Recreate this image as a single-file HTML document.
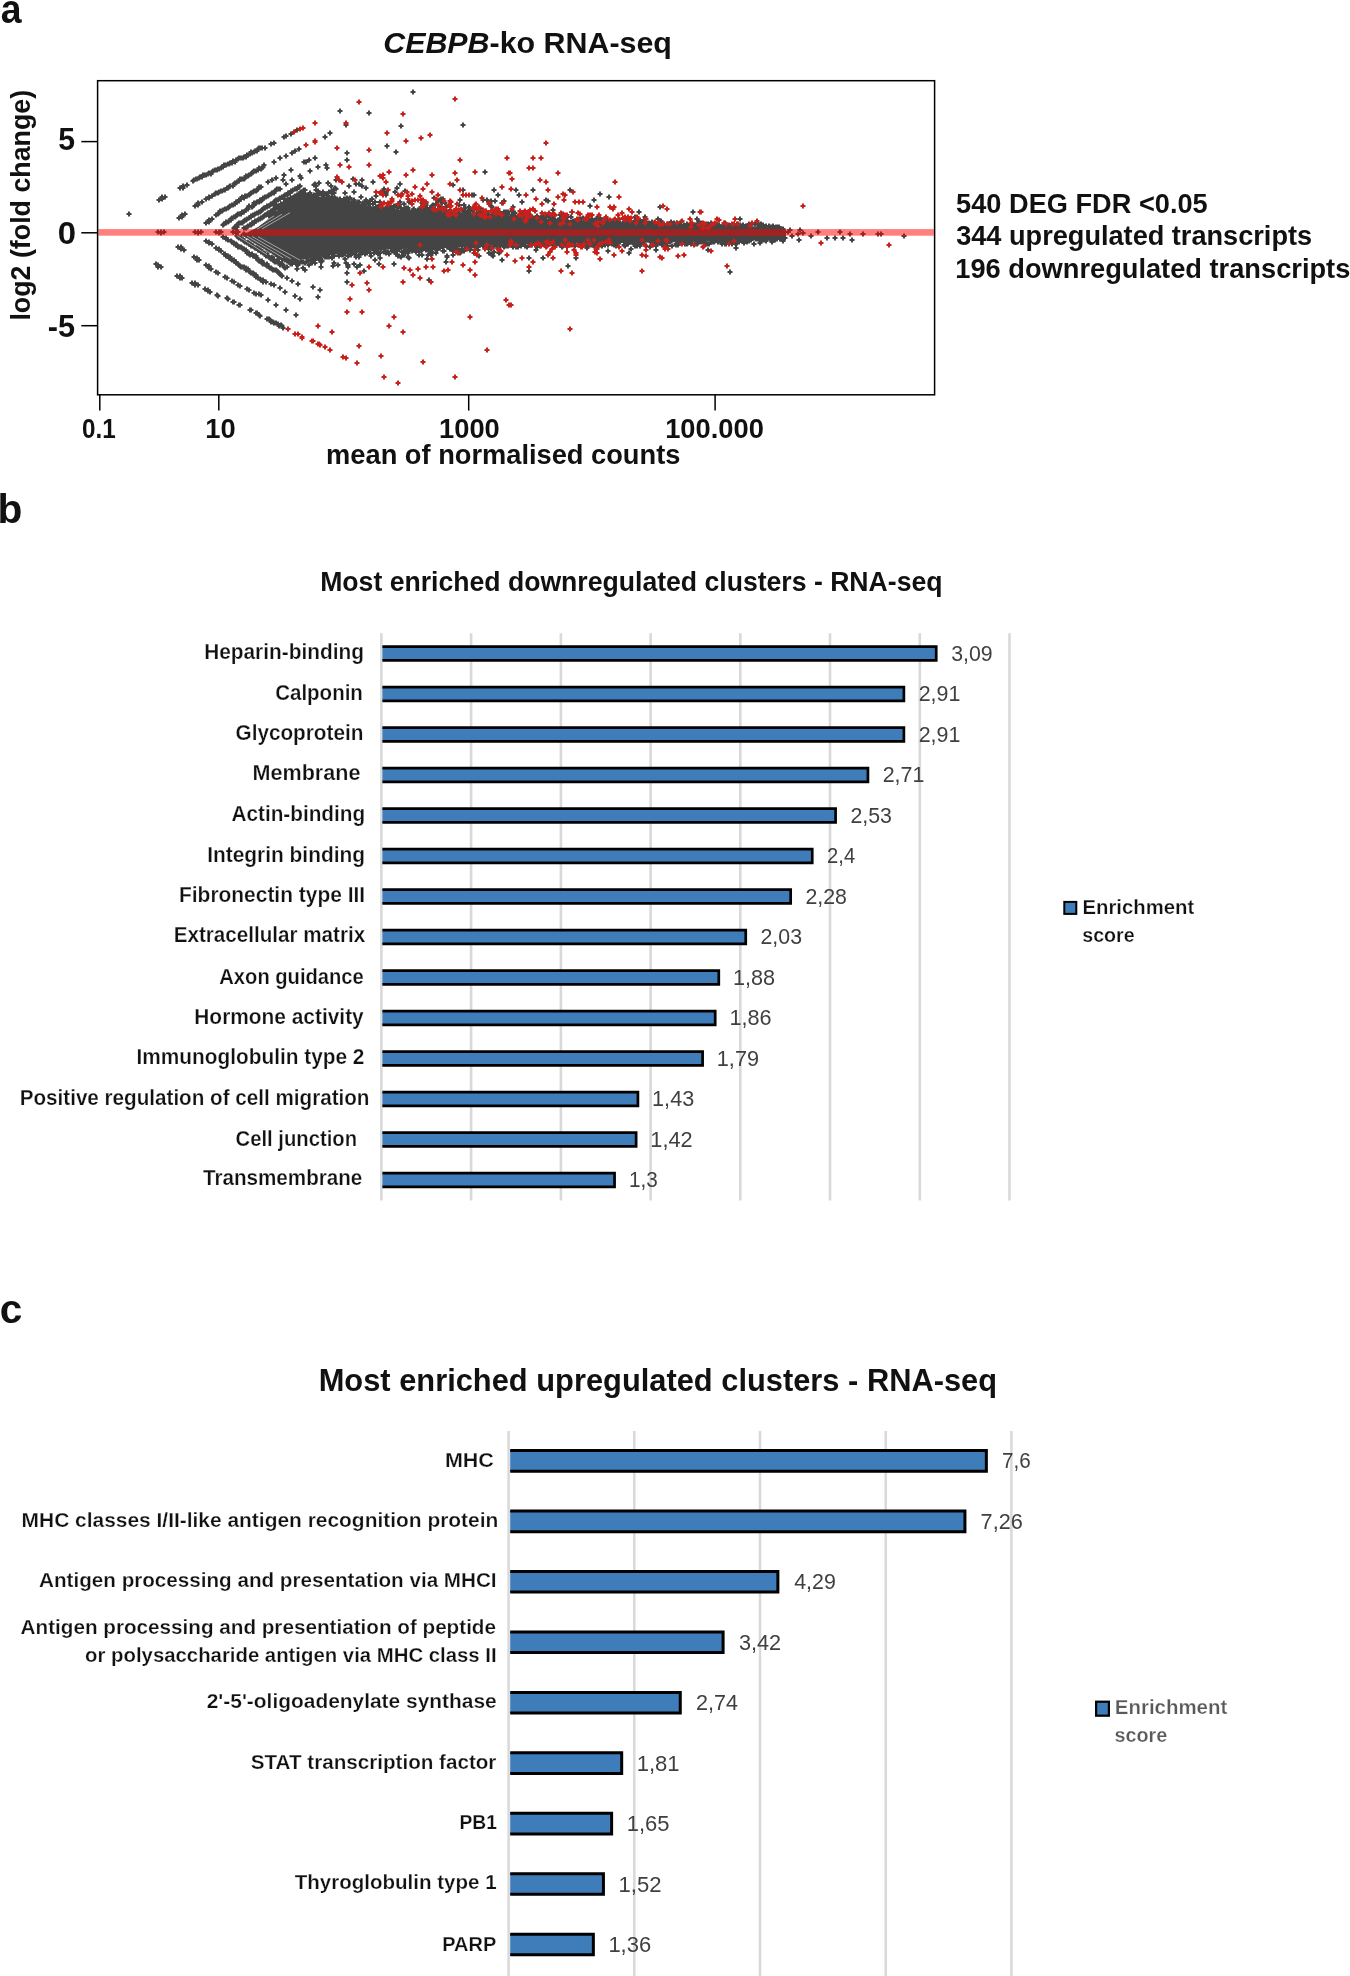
<!DOCTYPE html>
<html><head><meta charset="utf-8"><style>
html,body{margin:0;padding:0;background:#fff;}
svg{display:block;font-family:"Liberation Sans",sans-serif;will-change:transform;}
</style></head><body>
<svg width="1350" height="1976" viewBox="0 0 1350 1976">
<rect width="1350" height="1976" fill="#fff"/>
<clipPath id="pc"><rect x="98.3" y="81.4" width="835.5" height="312.7"/></clipPath>
<g clip-path="url(#pc)">
<polygon points="249.0,231.5 258.0,227.0 267.0,220.0 276.0,212.0 285.0,205.0 295.0,199.0 305.0,196.5 315.0,196.0 330.0,197.5 350.0,201.0 375.0,207.0 400.0,209.5 430.0,211.0 460.0,212.5 500.0,214.5 540.0,218.0 580.0,220.5 620.0,222.5 660.0,224.0 700.0,225.3 740.0,226.0 760.0,226.5 775.0,227.5 786.0,229.5 786.0,237.0 775.0,239.5 760.0,240.3 740.0,241.0 700.0,241.8 660.0,242.5 620.0,243.0 580.0,243.5 540.0,244.0 500.0,245.0 460.0,247.5 430.0,248.5 400.0,249.0 375.0,250.0 350.0,252.5 330.0,255.5 315.0,258.0 305.0,259.5 295.0,259.5 285.0,257.5 275.0,253.0 265.0,247.0 255.0,240.0 246.0,233.5" fill="#444"/>
<path d="M126.5 214h5M129 211.5v5M155.5 232h5M158 229.5v5M158.5 232h5M161 229.5v5M161.5 232h5M164 229.5v5M158.5 233h5M161 230.5v5M192.5 232h5M195 229.5v5M195.5 232h5M198 229.5v5M198.5 232h5M201 229.5v5M195.5 233h5M198 230.5v5M213.5 232h5M216 229.5v5M216.5 232h5M219 229.5v5M218.5 232h5M221 229.5v5M216.5 233h5M219 230.5v5M230.5 232h5M233 229.5v5M233.5 232h5M236 229.5v5M235.5 232h5M238 229.5v5M233.5 233h5M236 230.5v5M156.5 200h5M159 197.5v5M159.5 198h5M162 195.5v5M162.5 197h5M165 194.5v5M159.5 197h5M162 194.5v5M159.5 199h5M162 196.5v5M177.5 188h5M180 185.5v5M180.5 187h5M183 184.5v5M184.5 185h5M187 182.5v5M180.5 186h5M183 183.5v5M180.5 188h5M183 185.5v5M190.5 181h5M193 178.5v5M191.5 180h5M194 177.5v5M193.5 179h5M196 176.5v5M194.5 179h5M197 176.5v5M196.5 178h5M199 175.5v5M197.5 177h5M200 174.5v5M199.5 177h5M202 174.5v5M200.5 175h5M203 172.5v5M201.5 175h5M204 172.5v5M203.5 175h5M206 172.5v5M205.5 174h5M208 171.5v5M206.5 173h5M209 170.5v5M208.5 174h5M211 171.5v5M209.5 172h5M212 169.5v5M210.5 171h5M213 168.5v5M212.5 170h5M215 167.5v5M214.5 170h5M217 167.5v5M215.5 169h5M218 166.5v5M216.5 169h5M219 166.5v5M218.5 168h5M221 165.5v5M219.5 167h5M222 164.5v5M220.5 167h5M223 164.5v5M221.5 165h5M224 162.5v5M223.5 165h5M226 162.5v5M225.5 164h5M228 161.5v5M226.5 164h5M229 161.5v5M227.5 163h5M230 160.5v5M229.5 163h5M232 160.5v5M230.5 161h5M233 158.5v5M232.5 162h5M235 159.5v5M233.5 160h5M236 157.5v5M235.5 159h5M238 156.5v5M236.5 158h5M239 155.5v5M238.5 158h5M241 155.5v5M240.5 158h5M243 155.5v5M241.5 157h5M244 154.5v5M243.5 157h5M246 154.5v5M244.5 155h5M247 152.5v5M245.5 155h5M248 152.5v5M247.5 154h5M250 151.5v5M248.5 152h5M251 149.5v5M249.5 153h5M252 150.5v5M251.5 152h5M254 149.5v5M252.5 151h5M255 148.5v5M254.5 151h5M257 148.5v5M255.5 149h5M258 146.5v5M256.5 148h5M259 145.5v5M258.5 148h5M261 145.5v5M259.5 148h5M262 145.5v5M262.5 148h5M265 145.5v5M268.5 144h5M271 141.5v5M271.5 143h5M274 140.5v5M281.5 137h5M284 134.5v5M283.5 136h5M286 133.5v5M288.5 134h5M291 131.5v5M294.5 130h5M297 127.5v5M176.5 218h5M179 215.5v5M179.5 216h5M182 213.5v5M182.5 214h5M185 211.5v5M179.5 215h5M182 212.5v5M179.5 217h5M182 214.5v5M192.5 206h5M195 203.5v5M195.5 204h5M198 201.5v5M199.5 202h5M202 199.5v5M195.5 203h5M198 200.5v5M195.5 205h5M198 202.5v5M203.5 199h5M206 196.5v5M206.5 198h5M209 195.5v5M209.5 196h5M212 193.5v5M206.5 197h5M209 194.5v5M212.5 194h5M215 191.5v5M213.5 193h5M216 190.5v5M215.5 193h5M218 190.5v5M216.5 192h5M219 189.5v5M218.5 191h5M221 188.5v5M219.5 191h5M222 188.5v5M221.5 190h5M224 187.5v5M222.5 190h5M225 187.5v5M224.5 188h5M227 185.5v5M225.5 188h5M228 185.5v5M226.5 187h5M229 184.5v5M227.5 186h5M230 183.5v5M230.5 186h5M233 183.5v5M231.5 184h5M234 181.5v5M232.5 183h5M235 180.5v5M233.5 183h5M236 180.5v5M234.5 182h5M237 179.5v5M236.5 181h5M239 178.5v5M237.5 179h5M240 176.5v5M239.5 179h5M242 176.5v5M241.5 179h5M244 176.5v5M242.5 178h5M245 175.5v5M243.5 176h5M246 173.5v5M245.5 176h5M248 173.5v5M246.5 175h5M249 172.5v5M248.5 174h5M251 171.5v5M249.5 173h5M252 170.5v5M250.5 172h5M253 169.5v5M251.5 171h5M254 168.5v5M253.5 171h5M256 168.5v5M255.5 170h5M258 167.5v5M256.5 168h5M259 165.5v5M258.5 169h5M261 166.5v5M259.5 168h5M262 165.5v5M260.5 167h5M263 164.5v5M261.5 165h5M264 162.5v5M271.5 162h5M274 159.5v5M277.5 158h5M280 155.5v5M283.5 156h5M286 153.5v5M289.5 153h5M292 150.5v5M292.5 151h5M295 148.5v5M296.5 149h5M299 146.5v5M203.5 223h5M206 220.5v5M206.5 221h5M209 218.5v5M209.5 219h5M212 216.5v5M206.5 220h5M209 217.5v5M206.5 222h5M209 219.5v5M213.5 215h5M216 212.5v5M215.5 214h5M218 211.5v5M216.5 213h5M219 210.5v5M217.5 211h5M220 208.5v5M219.5 211h5M222 208.5v5M220.5 210h5M223 207.5v5M222.5 209h5M225 206.5v5M223.5 209h5M226 206.5v5M225.5 208h5M228 205.5v5M226.5 207h5M229 204.5v5M227.5 206h5M230 203.5v5M229.5 205h5M232 202.5v5M230.5 205h5M233 202.5v5M232.5 204h5M235 201.5v5M233.5 202h5M236 199.5v5M234.5 202h5M237 199.5v5M236.5 201h5M239 198.5v5M236.5 200h5M239 197.5v5M238.5 199h5M241 196.5v5M239.5 197h5M242 194.5v5M241.5 198h5M244 195.5v5M242.5 196h5M245 193.5v5M244.5 196h5M247 193.5v5M246.5 195h5M249 192.5v5M247.5 194h5M250 191.5v5M248.5 193h5M251 190.5v5M250.5 192h5M253 189.5v5M251.5 191h5M254 188.5v5M253.5 191h5M256 188.5v5M254.5 190h5M257 187.5v5M255.5 189h5M258 186.5v5M256.5 187h5M259 184.5v5M258.5 187h5M261 184.5v5M265.5 182h5M268 179.5v5M269.5 180h5M272 177.5v5M273.5 178h5M276 175.5v5M281.5 175h5M284 172.5v5M288.5 170h5M291 167.5v5M301.5 162h5M304 159.5v5M312.5 158h5M315 155.5v5M306.5 160h5M309 157.5v5M220.5 225h5M223 222.5v5M221.5 224h5M224 221.5v5M223.5 223h5M226 220.5v5M223.5 222h5M226 219.5v5M225.5 222h5M228 219.5v5M226.5 221h5M229 218.5v5M228.5 220h5M231 217.5v5M228.5 219h5M231 216.5v5M229.5 218h5M232 215.5v5M231.5 217h5M234 214.5v5M232.5 217h5M235 214.5v5M233.5 216h5M236 213.5v5M234.5 215h5M237 212.5v5M235.5 214h5M238 211.5v5M237.5 214h5M240 211.5v5M238.5 214h5M241 211.5v5M239.5 212h5M242 209.5v5M240.5 212h5M243 209.5v5M241.5 212h5M244 209.5v5M243.5 210h5M246 207.5v5M244.5 209h5M247 206.5v5M245.5 209h5M248 206.5v5M246.5 207h5M249 204.5v5M246.5 206h5M249 203.5v5M249.5 207h5M252 204.5v5M250.5 206h5M253 203.5v5M251.5 205h5M254 202.5v5M251.5 203h5M254 200.5v5M253.5 203h5M256 200.5v5M254.5 202h5M257 199.5v5M256.5 202h5M259 199.5v5M257.5 200h5M260 197.5v5M258.5 201h5M261 198.5v5M259.5 200h5M262 197.5v5M260.5 198h5M263 195.5v5M261.5 198h5M264 195.5v5M262.5 197h5M265 194.5v5M263.5 197h5M266 194.5v5M265.5 196h5M268 193.5v5M266.5 195h5M269 192.5v5M268.5 194h5M271 191.5v5M269.5 193h5M272 190.5v5M270.5 193h5M273 190.5v5M271.5 193h5M274 190.5v5M272.5 191h5M275 188.5v5M273.5 190h5M276 187.5v5M274.5 189h5M277 186.5v5M276.5 189h5M279 186.5v5M277.5 189h5M280 186.5v5M283.5 184h5M286 181.5v5M289.5 180h5M292 177.5v5M297.5 176h5M300 173.5v5M307.5 171h5M310 168.5v5M315.5 167h5M318 164.5v5M231.5 228h5M234 225.5v5M232.5 227h5M235 224.5v5M234.5 227h5M237 224.5v5M234.5 225h5M237 222.5v5M235.5 224h5M238 221.5v5M236.5 223h5M239 220.5v5M238.5 223h5M241 220.5v5M239.5 223h5M242 220.5v5M240.5 222h5M243 219.5v5M241.5 221h5M244 218.5v5M242.5 220h5M245 217.5v5M243.5 220h5M246 217.5v5M244.5 219h5M247 216.5v5M246.5 218h5M249 215.5v5M248.5 217h5M251 214.5v5M248.5 216h5M251 213.5v5M250.5 215h5M253 212.5v5M251.5 215h5M254 212.5v5M252.5 214h5M255 211.5v5M254.5 213h5M257 210.5v5M255.5 213h5M258 210.5v5M256.5 212h5M259 209.5v5M257.5 212h5M260 209.5v5M258.5 211h5M261 208.5v5M259.5 210h5M262 207.5v5M260.5 209h5M263 206.5v5M261.5 208h5M264 205.5v5M262.5 208h5M265 205.5v5M264.5 207h5M267 204.5v5M264.5 206h5M267 203.5v5M266.5 206h5M269 203.5v5M267.5 205h5M270 202.5v5M268.5 204h5M271 201.5v5M269.5 204h5M272 201.5v5M271.5 204h5M274 201.5v5M271.5 202h5M274 199.5v5M272.5 201h5M275 198.5v5M273.5 200h5M276 197.5v5M275.5 200h5M278 197.5v5M276.5 199h5M279 196.5v5M277.5 199h5M280 196.5v5M277.5 198h5M280 195.5v5M279.5 197h5M282 194.5v5M280.5 197h5M283 194.5v5M281.5 196h5M284 193.5v5M282.5 195h5M285 192.5v5M284.5 195h5M287 192.5v5M285.5 193h5M288 190.5v5M286.5 193h5M289 190.5v5M287.5 193h5M290 190.5v5M288.5 191h5M291 188.5v5M289.5 191h5M292 188.5v5M290.5 190h5M293 187.5v5M292.5 189h5M295 186.5v5M293.5 189h5M296 186.5v5M294.5 189h5M297 186.5v5M295.5 187h5M298 184.5v5M296.5 187h5M299 184.5v5M297.5 186h5M300 183.5v5M241.5 228h5M244 225.5v5M242.5 228h5M245 225.5v5M243.5 228h5M246 225.5v5M244.5 227h5M247 224.5v5M245.5 226h5M248 223.5v5M247.5 225h5M250 222.5v5M248.5 225h5M251 222.5v5M249.5 224h5M252 221.5v5M249.5 223h5M252 220.5v5M251.5 223h5M254 220.5v5M252.5 221h5M255 218.5v5M253.5 221h5M256 218.5v5M255.5 220h5M258 217.5v5M256.5 219h5M259 216.5v5M257.5 219h5M260 216.5v5M258.5 218h5M261 215.5v5M259.5 218h5M262 215.5v5M260.5 217h5M263 214.5v5M261.5 216h5M264 213.5v5M262.5 215h5M265 212.5v5M263.5 215h5M266 212.5v5M264.5 214h5M267 211.5v5M265.5 213h5M268 210.5v5M266.5 213h5M269 210.5v5M268.5 212h5M271 209.5v5M268.5 211h5M271 208.5v5M270.5 210h5M273 207.5v5M271.5 209h5M274 206.5v5M272.5 209h5M275 206.5v5M273.5 208h5M276 205.5v5M274.5 207h5M277 204.5v5M276.5 207h5M279 204.5v5M277.5 206h5M280 203.5v5M278.5 206h5M281 203.5v5M278.5 204h5M281 201.5v5M280.5 204h5M283 201.5v5M281.5 203h5M284 200.5v5M282.5 203h5M285 200.5v5M283.5 201h5M286 198.5v5M285.5 201h5M288 198.5v5M285.5 200h5M288 197.5v5M287.5 200h5M290 197.5v5M288.5 199h5M291 196.5v5M290.5 198h5M293 195.5v5M291.5 197h5M294 194.5v5M292.5 196h5M295 193.5v5M293.5 196h5M296 193.5v5M294.5 195h5M297 192.5v5M296.5 194h5M299 191.5v5M297.5 193h5M300 190.5v5M298.5 192h5M301 189.5v5M300.5 191h5M303 188.5v5M301.5 190h5M304 187.5v5M302.5 190h5M305 187.5v5M153.5 264h5M156 261.5v5M158.5 267h5M161 264.5v5M155.5 265h5M158 262.5v5M155.5 267h5M158 264.5v5M174.5 276h5M177 273.5v5M179.5 278h5M182 275.5v5M177.5 276h5M180 273.5v5M177.5 278h5M180 275.5v5M189.5 283h5M192 280.5v5M195.5 285h5M198 282.5v5M192.5 283h5M195 280.5v5M192.5 285h5M195 282.5v5M202.5 289h5M205 286.5v5M207.5 292h5M210 289.5v5M205.5 290h5M208 287.5v5M205.5 291h5M208 288.5v5M214.5 295h5M217 292.5v5M215.5 296h5M218 293.5v5M224.5 298h5M227 295.5v5M225.5 299h5M228 296.5v5M230.5 302h5M233 299.5v5M231.5 302h5M234 299.5v5M236.5 305h5M239 302.5v5M237.5 305h5M240 302.5v5M247.5 310h5M250 307.5v5M248.5 310h5M251 307.5v5M253.5 313h5M256 310.5v5M254.5 313h5M257 310.5v5M256.5 315h5M259 312.5v5M257.5 316h5M260 313.5v5M264.5 319h5M267 316.5v5M266.5 319h5M269 316.5v5M267.5 320h5M270 317.5v5M268.5 322h5M271 319.5v5M270.5 322h5M273 319.5v5M271.5 323h5M274 320.5v5M273.5 323h5M276 320.5v5M275.5 324h5M278 321.5v5M276.5 326h5M279 323.5v5M278.5 325h5M281 322.5v5M279.5 326h5M282 323.5v5M280.5 328h5M283 325.5v5M175.5 247h5M178 244.5v5M178.5 248h5M181 245.5v5M181.5 250h5M184 247.5v5M178.5 247h5M181 244.5v5M178.5 249h5M181 246.5v5M191.5 257h5M194 254.5v5M194.5 259h5M197 256.5v5M196.5 260h5M199 257.5v5M194.5 258h5M197 255.5v5M194.5 260h5M197 257.5v5M203.5 265h5M206 262.5v5M206.5 267h5M209 264.5v5M208.5 269h5M211 266.5v5M206.5 266h5M209 263.5v5M206.5 268h5M209 265.5v5M213.5 272h5M216 269.5v5M215.5 273h5M218 270.5v5M222.5 277h5M225 274.5v5M224.5 278h5M227 275.5v5M229.5 281h5M232 278.5v5M231.5 282h5M234 279.5v5M235.5 285h5M238 282.5v5M237.5 286h5M240 283.5v5M244.5 289h5M247 286.5v5M246.5 290h5M249 287.5v5M251.5 293h5M254 290.5v5M253.5 294h5M256 291.5v5M256.5 294h5M259 291.5v5M258.5 295h5M261 292.5v5M265.5 300h5M268 297.5v5M273.5 305h5M276 302.5v5M283.5 310h5M286 307.5v5M293.5 315h5M296 312.5v5M203.5 241h5M206 238.5v5M206.5 242h5M209 239.5v5M209.5 244h5M212 241.5v5M206.5 243h5M209 240.5v5M213.5 248h5M216 245.5v5M216.5 249h5M219 246.5v5M218.5 251h5M221 248.5v5M216.5 250h5M219 247.5v5M221.5 254h5M224 251.5v5M222.5 254h5M225 251.5v5M223.5 256h5M226 253.5v5M225.5 256h5M228 253.5v5M226.5 258h5M229 255.5v5M227.5 257h5M230 254.5v5M228.5 259h5M231 256.5v5M229.5 260h5M232 257.5v5M231.5 260h5M234 257.5v5M231.5 261h5M234 258.5v5M233.5 262h5M236 259.5v5M233.5 263h5M236 260.5v5M235.5 264h5M238 261.5v5M236.5 265h5M239 262.5v5M237.5 266h5M240 263.5v5M238.5 267h5M241 264.5v5M239.5 267h5M242 264.5v5M241.5 267h5M244 264.5v5M243.5 268h5M246 265.5v5M243.5 270h5M246 267.5v5M245.5 269h5M248 266.5v5M246.5 271h5M249 268.5v5M247.5 272h5M250 269.5v5M248.5 273h5M251 270.5v5M250.5 273h5M253 270.5v5M250.5 274h5M253 271.5v5M251.5 274h5M254 271.5v5M253.5 275h5M256 272.5v5M253.5 277h5M256 274.5v5M255.5 278h5M258 275.5v5M257.5 279h5M260 276.5v5M258.5 280h5M261 277.5v5M260.5 280h5M263 277.5v5M260.5 282h5M263 279.5v5M263.5 282h5M266 279.5v5M268.5 284h5M271 281.5v5M271.5 285h5M274 282.5v5M277.5 288h5M280 285.5v5M282.5 292h5M285 289.5v5M292.5 296h5M295 293.5v5M297.5 299h5M300 296.5v5M220.5 237h5M223 234.5v5M223.5 238h5M226 235.5v5M225.5 240h5M228 237.5v5M223.5 239h5M226 236.5v5M228.5 241h5M231 238.5v5M229.5 242h5M232 239.5v5M231.5 243h5M234 240.5v5M231.5 244h5M234 241.5v5M233.5 244h5M236 241.5v5M233.5 245h5M236 242.5v5M234.5 245h5M237 242.5v5M235.5 247h5M238 244.5v5M236.5 247h5M239 244.5v5M238.5 247h5M241 244.5v5M239.5 248h5M242 245.5v5M240.5 249h5M243 246.5v5M241.5 249h5M244 246.5v5M243.5 250h5M246 247.5v5M243.5 251h5M246 248.5v5M244.5 253h5M247 250.5v5M246.5 253h5M249 250.5v5M246.5 254h5M249 251.5v5M247.5 255h5M250 252.5v5M249.5 254h5M252 251.5v5M250.5 256h5M253 253.5v5M251.5 256h5M254 253.5v5M253.5 256h5M256 253.5v5M253.5 258h5M256 255.5v5M254.5 258h5M257 255.5v5M255.5 260h5M258 257.5v5M256.5 261h5M259 258.5v5M258.5 261h5M261 258.5v5M259.5 261h5M262 258.5v5M259.5 263h5M262 260.5v5M260.5 264h5M263 261.5v5M261.5 264h5M264 261.5v5M263.5 265h5M266 262.5v5M264.5 264h5M267 261.5v5M264.5 266h5M267 263.5v5M266.5 267h5M269 264.5v5M267.5 268h5M270 265.5v5M268.5 268h5M271 265.5v5M269.5 269h5M272 266.5v5M270.5 270h5M273 267.5v5M271.5 270h5M274 267.5v5M273.5 270h5M276 267.5v5M274.5 271h5M277 268.5v5M275.5 272h5M278 269.5v5M276.5 273h5M279 270.5v5M277.5 274h5M280 271.5v5M278.5 275h5M281 272.5v5M279.5 276h5M282 273.5v5M284.5 278h5M287 275.5v5M289.5 281h5M292 278.5v5M295.5 284h5M298 281.5v5M234.5 236h5M237 233.5v5M235.5 237h5M238 234.5v5M236.5 238h5M239 235.5v5M238.5 238h5M241 235.5v5M238.5 239h5M241 236.5v5M240.5 239h5M243 236.5v5M240.5 240h5M243 237.5v5M241.5 241h5M244 238.5v5M242.5 242h5M245 239.5v5M244.5 243h5M247 240.5v5M245.5 242h5M248 239.5v5M246.5 244h5M249 241.5v5M248.5 244h5M251 241.5v5M248.5 246h5M251 243.5v5M249.5 246h5M252 243.5v5M250.5 246h5M253 243.5v5M251.5 247h5M254 244.5v5M252.5 248h5M255 245.5v5M254.5 248h5M257 245.5v5M255.5 250h5M258 247.5v5M256.5 249h5M259 246.5v5M258.5 250h5M261 247.5v5M258.5 252h5M261 249.5v5M259.5 252h5M262 249.5v5M260.5 253h5M263 250.5v5M261.5 253h5M264 250.5v5M262.5 254h5M265 251.5v5M263.5 256h5M266 253.5v5M265.5 256h5M268 253.5v5M266.5 257h5M269 254.5v5M267.5 258h5M270 255.5v5M268.5 259h5M271 256.5v5M270.5 260h5M273 257.5v5M271.5 261h5M274 258.5v5M272.5 262h5M275 259.5v5M273.5 261h5M276 258.5v5M274.5 262h5M277 259.5v5M276.5 262h5M279 259.5v5M277.5 264h5M280 261.5v5M277.5 265h5M280 262.5v5M279.5 264h5M282 261.5v5M280.5 265h5M283 262.5v5M281.5 267h5M284 264.5v5M282.5 268h5M285 265.5v5M284.5 267h5M287 264.5v5M240.5 235h5M243 232.5v5M241.5 234h5M244 231.5v5M243.5 235h5M246 232.5v5M243.5 236h5M246 233.5v5M244.5 236h5M247 233.5v5M246.5 236h5M249 233.5v5M247.5 238h5M250 235.5v5M248.5 238h5M251 235.5v5M249.5 240h5M252 237.5v5M250.5 240h5M253 237.5v5M251.5 241h5M254 238.5v5M252.5 241h5M255 238.5v5M253.5 241h5M256 238.5v5M254.5 243h5M257 240.5v5M255.5 244h5M258 241.5v5M256.5 245h5M259 242.5v5M258.5 245h5M261 242.5v5M259.5 245h5M262 242.5v5M260.5 246h5M263 243.5v5M261.5 247h5M264 244.5v5M262.5 247h5M265 244.5v5M263.5 248h5M266 245.5v5M264.5 248h5M267 245.5v5M265.5 250h5M268 247.5v5M267.5 251h5M270 248.5v5M268.5 250h5M271 247.5v5M269.5 251h5M272 248.5v5M270.5 252h5M273 249.5v5M271.5 252h5M274 249.5v5M273.5 254h5M276 251.5v5M274.5 254h5M277 251.5v5M275.5 255h5M278 252.5v5M276.5 256h5M279 253.5v5M277.5 257h5M280 254.5v5M278.5 257h5M281 254.5v5M279.5 258h5M282 255.5v5M279.5 259h5M282 256.5v5M281.5 259h5M284 256.5v5M282.5 260h5M285 257.5v5M284.5 260h5M287 257.5v5M285.5 260h5M288 257.5v5M286.5 262h5M289 259.5v5M287.5 263h5M290 260.5v5M288.5 264h5M291 261.5v5M289.5 264h5M292 261.5v5M265.5 248h5M268 245.5v5M267.5 214h5M270 211.5v5M267.5 250h5M270 247.5v5M268.5 217h5M271 214.5v5M269.5 257h5M272 254.5v5M270.5 204h5M273 201.5v5M271.5 211h5M274 208.5v5M272.5 213h5M275 210.5v5M273.5 205h5M276 202.5v5M275.5 206h5M278 203.5v5M276.5 259h5M279 256.5v5M277.5 210h5M280 207.5v5M279.5 205h5M282 202.5v5M280.5 180h5M283 177.5v5M280.5 256h5M283 253.5v5M281.5 199h5M284 196.5v5M282.5 206h5M285 203.5v5M283.5 204h5M286 201.5v5M284.5 261h5M287 258.5v5M286.5 199h5M289 196.5v5M287.5 203h5M290 200.5v5M288.5 202h5M291 199.5v5M288.5 262h5M291 259.5v5M289.5 200h5M292 197.5v5M289.5 260h5M292 257.5v5M290.5 201h5M293 198.5v5M291.5 200h5M294 197.5v5M292.5 262h5M295 259.5v5M293.5 197h5M296 194.5v5M293.5 264h5M296 261.5v5M294.5 269h5M297 266.5v5M295.5 265h5M298 262.5v5M296.5 198h5M299 195.5v5M296.5 260h5M299 257.5v5M297.5 258h5M300 255.5v5M298.5 199h5M301 196.5v5M300.5 268h5M303 265.5v5M302.5 195h5M305 192.5v5M303.5 198h5M306 195.5v5M304.5 195h5M307 192.5v5M305.5 260h5M308 257.5v5M306.5 195h5M309 192.5v5M306.5 265h5M309 262.5v5M307.5 193h5M310 190.5v5M308.5 197h5M311 194.5v5M308.5 257h5M311 254.5v5M309.5 261h5M312 258.5v5M310.5 259h5M313 256.5v5M311.5 260h5M314 257.5v5M312.5 263h5M315 260.5v5M313.5 190h5M316 187.5v5M314.5 195h5M317 192.5v5M315.5 195h5M318 192.5v5M316.5 183h5M319 180.5v5M318.5 262h5M321 259.5v5M319.5 195h5M322 192.5v5M319.5 261h5M322 258.5v5M321.5 194h5M324 191.5v5M323.5 165h5M326 162.5v5M324.5 168h5M327 165.5v5M324.5 255h5M327 252.5v5M326.5 192h5M329 189.5v5M329.5 191h5M332 188.5v5M329.5 257h5M332 254.5v5M331.5 193h5M334 190.5v5M331.5 263h5M334 260.5v5M332.5 189h5M335 186.5v5M335.5 200h5M338 197.5v5M335.5 265h5M338 262.5v5M336.5 256h5M339 253.5v5M338.5 254h5M341 251.5v5M340.5 255h5M343 252.5v5M341.5 199h5M344 196.5v5M342.5 193h5M345 190.5v5M342.5 259h5M345 256.5v5M343.5 201h5M346 198.5v5M344.5 282h5M347 279.5v5M346.5 199h5M349 196.5v5M346.5 254h5M349 251.5v5M347.5 255h5M350 252.5v5M348.5 252h5M351 249.5v5M349.5 253h5M352 250.5v5M351.5 200h5M354 197.5v5M352.5 254h5M355 251.5v5M353.5 184h5M356 181.5v5M353.5 257h5M356 254.5v5M354.5 203h5M357 200.5v5M355.5 202h5M358 199.5v5M357.5 251h5M360 248.5v5M358.5 197h5M361 194.5v5M359.5 186h5M362 183.5v5M359.5 253h5M362 250.5v5M360.5 203h5M363 200.5v5M363.5 200h5M366 197.5v5M364.5 252h5M367 249.5v5M365.5 250h5M368 247.5v5M366.5 204h5M369 201.5v5M367.5 201h5M370 198.5v5M368.5 256h5M371 253.5v5M369.5 249h5M372 246.5v5M371.5 253h5M374 250.5v5M372.5 250h5M375 247.5v5M373.5 249h5M376 246.5v5M374.5 207h5M377 204.5v5M375.5 208h5M378 205.5v5M375.5 253h5M378 250.5v5M376.5 208h5M379 205.5v5M377.5 205h5M380 202.5v5M377.5 258h5M380 255.5v5M378.5 249h5M381 246.5v5M380.5 248h5M383 245.5v5M381.5 189h5M384 186.5v5M382.5 248h5M385 245.5v5M383.5 195h5M386 192.5v5M383.5 253h5M386 250.5v5M386.5 254h5M389 251.5v5M387.5 207h5M390 204.5v5M388.5 207h5M391 204.5v5M388.5 248h5M391 245.5v5M390.5 210h5M393 207.5v5M390.5 251h5M393 248.5v5M391.5 207h5M394 204.5v5M391.5 264h5M394 261.5v5M392.5 192h5M395 189.5v5M392.5 250h5M395 247.5v5M393.5 206h5M396 203.5v5M393.5 251h5M396 248.5v5M394.5 249h5M397 246.5v5M395.5 208h5M398 205.5v5M396.5 205h5M399 202.5v5M396.5 256h5M399 253.5v5M397.5 202h5M400 199.5v5M398.5 248h5M401 245.5v5M401.5 204h5M404 201.5v5M402.5 208h5M405 205.5v5M404.5 208h5M407 205.5v5M405.5 208h5M408 205.5v5M405.5 253h5M408 250.5v5M406.5 202h5M409 199.5v5M407.5 249h5M410 246.5v5M409.5 251h5M412 248.5v5M410.5 250h5M413 247.5v5M411.5 209h5M414 206.5v5M413.5 248h5M416 245.5v5M414.5 248h5M417 245.5v5M415.5 210h5M418 207.5v5M416.5 255h5M419 252.5v5M417.5 209h5M420 206.5v5M418.5 211h5M421 208.5v5M418.5 251h5M421 248.5v5M419.5 203h5M422 200.5v5M419.5 249h5M422 246.5v5M422.5 211h5M425 208.5v5M423.5 203h5M426 200.5v5M423.5 250h5M426 247.5v5M424.5 259h5M427 256.5v5M426.5 211h5M429 208.5v5M426.5 251h5M429 248.5v5M427.5 208h5M430 205.5v5M429.5 206h5M432 203.5v5M429.5 252h5M432 249.5v5M430.5 213h5M433 210.5v5M431.5 211h5M434 208.5v5M431.5 248h5M434 245.5v5M432.5 209h5M435 206.5v5M433.5 204h5M436 201.5v5M437.5 200h5M440 197.5v5M437.5 248h5M440 245.5v5M438.5 207h5M441 204.5v5M440.5 199h5M443 196.5v5M440.5 251h5M443 248.5v5M441.5 213h5M444 210.5v5M442.5 212h5M445 209.5v5M443.5 213h5M446 210.5v5M443.5 262h5M446 259.5v5M446.5 213h5M449 210.5v5M447.5 212h5M450 209.5v5M448.5 213h5M451 210.5v5M450.5 248h5M453 245.5v5M454.5 249h5M457 246.5v5M457.5 200h5M460 197.5v5M457.5 253h5M460 250.5v5M458.5 252h5M461 249.5v5M461.5 251h5M464 248.5v5M463.5 212h5M466 209.5v5M463.5 247h5M466 244.5v5M465.5 212h5M468 209.5v5M465.5 246h5M468 243.5v5M466.5 212h5M469 209.5v5M467.5 210h5M470 207.5v5M467.5 246h5M470 243.5v5M468.5 247h5M471 244.5v5M469.5 210h5M472 207.5v5M470.5 246h5M473 243.5v5M471.5 195h5M474 192.5v5M471.5 253h5M474 250.5v5M472.5 250h5M475 247.5v5M473.5 247h5M476 244.5v5M474.5 209h5M477 206.5v5M475.5 247h5M478 244.5v5M476.5 214h5M479 211.5v5M476.5 256h5M479 253.5v5M477.5 245h5M480 242.5v5M479.5 210h5M482 207.5v5M481.5 215h5M484 212.5v5M481.5 245h5M484 242.5v5M482.5 215h5M485 212.5v5M482.5 245h5M485 242.5v5M486.5 215h5M489 212.5v5M486.5 253h5M489 250.5v5M487.5 247h5M490 244.5v5M488.5 201h5M491 198.5v5M490.5 256h5M493 253.5v5M491.5 214h5M494 211.5v5M491.5 244h5M494 241.5v5M492.5 245h5M495 242.5v5M495.5 215h5M498 212.5v5M495.5 247h5M498 244.5v5M496.5 212h5M499 209.5v5M496.5 250h5M499 247.5v5M499.5 215h5M502 212.5v5M501.5 201h5M504 198.5v5M501.5 247h5M504 244.5v5M502.5 216h5M505 213.5v5M503.5 212h5M506 209.5v5M503.5 246h5M506 243.5v5M505.5 214h5M508 211.5v5M505.5 246h5M508 243.5v5M506.5 245h5M509 242.5v5M508.5 217h5M511 214.5v5M509.5 211h5M512 208.5v5M509.5 245h5M512 242.5v5M510.5 207h5M513 204.5v5M511.5 245h5M514 242.5v5M512.5 216h5M515 213.5v5M517.5 216h5M520 213.5v5M517.5 243h5M520 240.5v5M518.5 246h5M521 243.5v5M520.5 243h5M523 240.5v5M522.5 214h5M525 211.5v5M524.5 218h5M527 215.5v5M528.5 243h5M531 240.5v5M529.5 218h5M532 215.5v5M531.5 243h5M534 240.5v5M533.5 250h5M536 247.5v5M534.5 216h5M537 213.5v5M535.5 245h5M538 242.5v5M536.5 245h5M539 242.5v5M538.5 217h5M541 214.5v5M538.5 243h5M541 240.5v5M539.5 217h5M542 214.5v5M541.5 218h5M544 215.5v5M542.5 216h5M545 213.5v5M545.5 201h5M548 198.5v5M546.5 220h5M549 217.5v5M546.5 243h5M549 240.5v5M548.5 217h5M551 214.5v5M550.5 210h5M553 207.5v5M551.5 219h5M554 216.5v5M552.5 245h5M555 242.5v5M555.5 243h5M558 240.5v5M556.5 221h5M559 218.5v5M556.5 244h5M559 241.5v5M557.5 215h5M560 212.5v5M558.5 243h5M561 240.5v5M559.5 215h5M562 212.5v5M560.5 214h5M563 211.5v5M560.5 246h5M563 243.5v5M563.5 219h5M566 216.5v5M563.5 244h5M566 241.5v5M569.5 212h5M572 209.5v5M571.5 244h5M574 241.5v5M572.5 242h5M575 239.5v5M574.5 221h5M577 218.5v5M575.5 242h5M578 239.5v5M580.5 244h5M583 241.5v5M582.5 221h5M585 218.5v5M583.5 244h5M586 241.5v5M584.5 248h5M587 245.5v5M585.5 243h5M588 240.5v5M586.5 221h5M589 218.5v5M589.5 245h5M592 242.5v5M591.5 221h5M594 218.5v5M592.5 220h5M595 217.5v5M592.5 247h5M595 244.5v5M593.5 242h5M596 239.5v5M594.5 219h5M597 216.5v5M594.5 245h5M597 242.5v5M595.5 217h5M598 214.5v5M595.5 245h5M598 242.5v5M596.5 222h5M599 219.5v5M597.5 218h5M600 215.5v5M599.5 220h5M602 217.5v5M599.5 243h5M602 240.5v5M602.5 245h5M605 242.5v5M603.5 218h5M606 215.5v5M603.5 242h5M606 239.5v5M604.5 242h5M607 239.5v5M606.5 243h5M609 240.5v5M608.5 242h5M611 239.5v5M609.5 244h5M612 241.5v5M610.5 242h5M613 239.5v5M612.5 223h5M615 220.5v5M612.5 242h5M615 239.5v5M613.5 246h5M616 243.5v5M615.5 220h5M618 217.5v5M621.5 242h5M624 239.5v5M622.5 222h5M625 219.5v5M622.5 246h5M625 243.5v5M628.5 249h5M631 246.5v5M630.5 223h5M633 220.5v5M631.5 224h5M634 221.5v5M631.5 244h5M634 241.5v5M632.5 217h5M635 214.5v5M634.5 246h5M637 243.5v5M635.5 243h5M638 240.5v5M636.5 222h5M639 219.5v5M636.5 244h5M639 241.5v5M637.5 221h5M640 218.5v5M639.5 224h5M642 221.5v5M641.5 221h5M644 218.5v5M641.5 241h5M644 238.5v5M642.5 217h5M645 214.5v5M643.5 224h5M646 221.5v5M645.5 224h5M648 221.5v5M646.5 225h5M649 222.5v5M647.5 247h5M650 244.5v5M648.5 242h5M651 239.5v5M649.5 222h5M652 219.5v5M652.5 242h5M655 239.5v5M653.5 250h5M656 247.5v5M655.5 219h5M658 216.5v5M655.5 243h5M658 240.5v5M657.5 222h5M660 219.5v5M657.5 241h5M660 238.5v5M658.5 221h5M661 218.5v5M660.5 241h5M663 238.5v5M661.5 226h5M664 223.5v5M662.5 245h5M665 242.5v5M664.5 225h5M667 222.5v5M664.5 241h5M667 238.5v5M665.5 242h5M668 239.5v5M666.5 242h5M669 239.5v5M668.5 225h5M671 222.5v5M669.5 224h5M672 221.5v5M671.5 223h5M674 220.5v5M673.5 225h5M676 222.5v5M675.5 245h5M678 242.5v5M676.5 243h5M679 240.5v5M682.5 242h5M685 239.5v5M683.5 226h5M686 223.5v5M684.5 224h5M687 221.5v5M684.5 244h5M687 241.5v5M685.5 243h5M688 240.5v5M686.5 226h5M689 223.5v5M687.5 240h5M690 237.5v5M688.5 242h5M691 239.5v5M689.5 226h5M692 223.5v5M693.5 225h5M696 222.5v5M694.5 219h5M697 216.5v5M694.5 241h5M697 238.5v5M695.5 226h5M698 223.5v5M697.5 240h5M700 237.5v5M701.5 227h5M704 224.5v5M701.5 241h5M704 238.5v5M702.5 227h5M705 224.5v5M704.5 224h5M707 221.5v5M709.5 241h5M712 238.5v5M711.5 242h5M714 239.5v5M719.5 227h5M722 224.5v5M720.5 226h5M723 223.5v5M722.5 223h5M725 220.5v5M722.5 244h5M725 241.5v5M723.5 244h5M726 241.5v5M724.5 240h5M727 237.5v5M726.5 226h5M729 223.5v5M726.5 240h5M729 237.5v5M727.5 226h5M730 223.5v5M728.5 241h5M731 238.5v5M730.5 240h5M733 237.5v5M734.5 240h5M737 237.5v5M736.5 240h5M739 237.5v5M737.5 225h5M740 222.5v5M740.5 227h5M743 224.5v5M743.5 226h5M746 223.5v5M743.5 241h5M746 238.5v5M753.5 239h5M756 236.5v5M756.5 226h5M759 223.5v5M757.5 225h5M760 222.5v5M757.5 240h5M760 237.5v5M758.5 240h5M761 237.5v5M760.5 225h5M763 222.5v5M761.5 228h5M764 225.5v5M762.5 240h5M765 237.5v5M763.5 239h5M766 236.5v5M766.5 238h5M769 235.5v5M767.5 239h5M770 236.5v5M768.5 227h5M771 224.5v5M772.5 228h5M775 225.5v5M775.5 237h5M778 234.5v5M776.5 229h5M779 226.5v5M780.5 236h5M783 233.5v5M266.5 216h5M269 213.5v5M265.5 251h5M268 248.5v5M268.5 215h5M271 212.5v5M270.5 214h5M273 211.5v5M272.5 212h5M275 209.5v5M271.5 256h5M274 253.5v5M275.5 208h5M278 205.5v5M276.5 258h5M279 255.5v5M277.5 209h5M280 206.5v5M278.5 255h5M281 252.5v5M278.5 205h5M281 202.5v5M281.5 204h5M284 201.5v5M285.5 202h5M288 199.5v5M284.5 259h5M287 256.5v5M286.5 202h5M289 199.5v5M287.5 259h5M290 256.5v5M288.5 198h5M291 195.5v5M289.5 259h5M292 256.5v5M291.5 262h5M294 259.5v5M292.5 197h5M295 194.5v5M292.5 259h5M295 256.5v5M295.5 197h5M298 194.5v5M294.5 259h5M297 256.5v5M297.5 196h5M300 193.5v5M297.5 262h5M300 259.5v5M298.5 196h5M301 193.5v5M298.5 262h5M301 259.5v5M300.5 195h5M303 192.5v5M300.5 262h5M303 259.5v5M302.5 263h5M305 260.5v5M305.5 198h5M308 195.5v5M305.5 261h5M308 258.5v5M307.5 195h5M310 192.5v5M308.5 261h5M311 258.5v5M310.5 197h5M313 194.5v5M309.5 257h5M312 254.5v5M311.5 195h5M314 192.5v5M312.5 260h5M315 257.5v5M314.5 194h5M317 191.5v5M315.5 258h5M318 255.5v5M316.5 193h5M319 190.5v5M316.5 259h5M319 256.5v5M318.5 259h5M321 256.5v5M321.5 195h5M324 192.5v5M320.5 255h5M323 252.5v5M323.5 194h5M326 191.5v5M322.5 257h5M325 254.5v5M325.5 196h5M328 193.5v5M324.5 257h5M327 254.5v5M325.5 198h5M328 195.5v5M326.5 257h5M329 254.5v5M329.5 197h5M332 194.5v5M329.5 258h5M332 255.5v5M332.5 198h5M335 195.5v5M331.5 256h5M334 253.5v5M334.5 199h5M337 196.5v5M335.5 253h5M338 250.5v5M337.5 199h5M340 196.5v5M338.5 253h5M341 250.5v5M339.5 201h5M342 198.5v5M339.5 255h5M342 252.5v5M342.5 199h5M345 196.5v5M342.5 253h5M345 250.5v5M344.5 198h5M347 195.5v5M345.5 256h5M348 253.5v5M347.5 198h5M350 195.5v5M348.5 255h5M351 252.5v5M350.5 201h5M353 198.5v5M351.5 203h5M354 200.5v5M352.5 251h5M355 248.5v5M353.5 252h5M356 249.5v5M356.5 202h5M359 199.5v5M356.5 255h5M359 252.5v5M360.5 205h5M363 202.5v5M359.5 251h5M362 248.5v5M362.5 204h5M365 201.5v5M362.5 254h5M365 251.5v5M363.5 202h5M366 199.5v5M364.5 253h5M367 250.5v5M367.5 204h5M370 201.5v5M367.5 253h5M370 250.5v5M370.5 204h5M373 201.5v5M373.5 207h5M376 204.5v5M374.5 251h5M377 248.5v5M376.5 207h5M379 204.5v5M375.5 252h5M378 249.5v5M378.5 205h5M381 202.5v5M377.5 253h5M380 250.5v5M381.5 209h5M384 206.5v5M381.5 252h5M384 249.5v5M383.5 208h5M386 205.5v5M384.5 252h5M387 249.5v5M384.5 208h5M387 205.5v5M385.5 252h5M388 249.5v5M388.5 209h5M391 206.5v5M389.5 251h5M392 248.5v5M391.5 206h5M394 203.5v5M391.5 251h5M394 248.5v5M394.5 207h5M397 204.5v5M394.5 251h5M397 248.5v5M396.5 206h5M399 203.5v5M396.5 249h5M399 246.5v5M398.5 208h5M401 205.5v5M399.5 252h5M402 249.5v5M400.5 211h5M403 208.5v5M401.5 251h5M404 248.5v5M403.5 251h5M406 248.5v5M406.5 211h5M409 208.5v5M406.5 250h5M409 247.5v5M409.5 211h5M412 208.5v5M409.5 250h5M412 247.5v5M410.5 210h5M413 207.5v5M411.5 250h5M414 247.5v5M412.5 211h5M415 208.5v5M413.5 252h5M416 249.5v5M416.5 211h5M419 208.5v5M416.5 250h5M419 247.5v5M418.5 207h5M421 204.5v5M418.5 249h5M421 246.5v5M422.5 209h5M425 206.5v5M422.5 248h5M425 245.5v5M424.5 208h5M427 205.5v5M424.5 249h5M427 246.5v5M427.5 212h5M430 209.5v5M427.5 250h5M430 247.5v5M428.5 209h5M431 206.5v5M430.5 248h5M433 245.5v5M432.5 247h5M435 244.5v5M433.5 212h5M436 209.5v5M434.5 250h5M437 247.5v5M437.5 212h5M440 209.5v5M436.5 247h5M439 244.5v5M440.5 213h5M443 210.5v5M440.5 247h5M443 244.5v5M442.5 211h5M445 208.5v5M441.5 251h5M444 248.5v5M444.5 213h5M447 210.5v5M444.5 247h5M447 244.5v5M447.5 210h5M450 207.5v5M447.5 249h5M450 246.5v5M450.5 213h5M453 210.5v5M450.5 251h5M453 248.5v5M452.5 213h5M455 210.5v5M452.5 249h5M455 246.5v5M454.5 214h5M457 211.5v5M454.5 250h5M457 247.5v5M456.5 213h5M459 210.5v5M456.5 250h5M459 247.5v5M460.5 211h5M463 208.5v5M459.5 249h5M462 246.5v5M462.5 214h5M465 211.5v5M462.5 246h5M465 243.5v5M465.5 211h5M468 208.5v5M465.5 248h5M468 245.5v5M467.5 211h5M470 208.5v5M467.5 250h5M470 247.5v5M470.5 211h5M473 208.5v5M469.5 245h5M472 242.5v5M473.5 215h5M476 212.5v5M473.5 245h5M476 242.5v5M474.5 213h5M477 210.5v5M475.5 250h5M478 247.5v5M476.5 211h5M479 208.5v5M476.5 245h5M479 242.5v5M479.5 212h5M482 209.5v5M480.5 246h5M483 243.5v5M482.5 211h5M485 208.5v5M482.5 247h5M485 244.5v5M485.5 214h5M488 211.5v5M485.5 248h5M488 245.5v5M489.5 212h5M492 209.5v5M488.5 249h5M491 246.5v5M493.5 213h5M496 210.5v5M491.5 246h5M494 243.5v5M495.5 212h5M498 209.5v5M495.5 248h5M498 245.5v5M497.5 213h5M500 210.5v5M497.5 246h5M500 243.5v5M501.5 212h5M504 209.5v5M500.5 244h5M503 241.5v5M503.5 213h5M506 210.5v5M503.5 245h5M506 242.5v5M505.5 212h5M508 209.5v5M509.5 215h5M512 212.5v5M507.5 244h5M510 241.5v5M510.5 215h5M513 212.5v5M510.5 247h5M513 244.5v5M512.5 213h5M515 210.5v5M513.5 247h5M516 244.5v5M516.5 218h5M519 215.5v5M515.5 247h5M518 244.5v5M519.5 213h5M522 210.5v5M519.5 243h5M522 240.5v5M523.5 216h5M526 213.5v5M522.5 246h5M525 243.5v5M524.5 216h5M527 213.5v5M524.5 247h5M527 244.5v5M527.5 215h5M530 212.5v5M527.5 245h5M530 242.5v5M529.5 217h5M532 214.5v5M529.5 245h5M532 242.5v5M533.5 218h5M536 215.5v5M533.5 244h5M536 241.5v5M534.5 218h5M537 215.5v5M534.5 247h5M537 244.5v5M536.5 219h5M539 216.5v5M537.5 246h5M540 243.5v5M540.5 216h5M543 213.5v5M540.5 243h5M543 240.5v5M543.5 217h5M546 214.5v5M542.5 245h5M545 242.5v5M544.5 215h5M547 212.5v5M544.5 246h5M547 243.5v5M547.5 243h5M550 240.5v5M550.5 217h5M553 214.5v5M550.5 245h5M553 242.5v5M551.5 216h5M554 213.5v5M552.5 243h5M555 240.5v5M555.5 220h5M558 217.5v5M558.5 219h5M561 216.5v5M557.5 245h5M560 242.5v5M558.5 218h5M561 215.5v5M559.5 247h5M562 244.5v5M561.5 216h5M564 213.5v5M562.5 244h5M565 241.5v5M564.5 217h5M567 214.5v5M564.5 242h5M567 239.5v5M568.5 217h5M571 214.5v5M567.5 245h5M570 242.5v5M570.5 221h5M573 218.5v5M570.5 243h5M573 240.5v5M572.5 221h5M575 218.5v5M572.5 246h5M575 243.5v5M576.5 219h5M579 216.5v5M576.5 245h5M579 242.5v5M578.5 219h5M581 216.5v5M577.5 242h5M580 239.5v5M580.5 218h5M583 215.5v5M581.5 243h5M584 240.5v5M583.5 219h5M586 216.5v5M584.5 246h5M587 243.5v5M587.5 220h5M590 217.5v5M587.5 245h5M590 242.5v5M589.5 219h5M592 216.5v5M589.5 243h5M592 240.5v5M592.5 221h5M595 218.5v5M591.5 242h5M594 239.5v5M594.5 222h5M597 219.5v5M594.5 244h5M597 241.5v5M597.5 221h5M600 218.5v5M597.5 245h5M600 242.5v5M598.5 220h5M601 217.5v5M599.5 246h5M602 243.5v5M601.5 221h5M604 218.5v5M601.5 243h5M604 240.5v5M603.5 219h5M606 216.5v5M604.5 243h5M607 240.5v5M605.5 221h5M608 218.5v5M605.5 245h5M608 242.5v5M609.5 221h5M612 218.5v5M609.5 243h5M612 240.5v5M611.5 220h5M614 217.5v5M611.5 245h5M614 242.5v5M615.5 222h5M618 219.5v5M615.5 243h5M618 240.5v5M617.5 223h5M620 220.5v5M617.5 242h5M620 239.5v5M621.5 222h5M624 219.5v5M621.5 245h5M624 242.5v5M622.5 219h5M625 216.5v5M622.5 245h5M625 242.5v5M625.5 221h5M628 218.5v5M625.5 244h5M628 241.5v5M628.5 223h5M631 220.5v5M628.5 242h5M631 239.5v5M631.5 222h5M634 219.5v5M632.5 221h5M635 218.5v5M632.5 246h5M635 243.5v5M635.5 221h5M638 218.5v5M637.5 220h5M640 217.5v5M637.5 246h5M640 243.5v5M639.5 222h5M642 219.5v5M638.5 243h5M641 240.5v5M641.5 220h5M644 217.5v5M641.5 244h5M644 241.5v5M644.5 223h5M647 220.5v5M643.5 246h5M646 243.5v5M646.5 223h5M649 220.5v5M647.5 241h5M650 238.5v5M651.5 223h5M654 220.5v5M651.5 244h5M654 241.5v5M654.5 224h5M657 221.5v5M653.5 246h5M656 243.5v5M656.5 222h5M659 219.5v5M657.5 243h5M660 240.5v5M659.5 225h5M662 222.5v5M659.5 245h5M662 242.5v5M661.5 224h5M664 221.5v5M662.5 244h5M665 241.5v5M665.5 224h5M668 221.5v5M664.5 246h5M667 243.5v5M665.5 225h5M668 222.5v5M665.5 241h5M668 238.5v5M667.5 242h5M670 239.5v5M668.5 222h5M671 219.5v5M669.5 246h5M672 243.5v5M672.5 224h5M675 221.5v5M673.5 244h5M676 241.5v5M674.5 223h5M677 220.5v5M673.5 245h5M676 242.5v5M676.5 224h5M679 221.5v5M677.5 242h5M680 239.5v5M678.5 222h5M681 219.5v5M678.5 243h5M681 240.5v5M681.5 225h5M684 222.5v5M682.5 244h5M685 241.5v5M685.5 226h5M688 223.5v5M687.5 225h5M690 222.5v5M687.5 241h5M690 238.5v5M689.5 223h5M692 220.5v5M688.5 244h5M691 241.5v5M691.5 225h5M694 222.5v5M692.5 244h5M695 241.5v5M694.5 225h5M697 222.5v5M694.5 244h5M697 241.5v5M696.5 222h5M699 219.5v5M695.5 243h5M698 240.5v5M698.5 223h5M701 220.5v5M698.5 242h5M701 239.5v5M701.5 224h5M704 221.5v5M701.5 243h5M704 240.5v5M702.5 225h5M705 222.5v5M704.5 244h5M707 241.5v5M705.5 224h5M708 221.5v5M705.5 244h5M708 241.5v5M707.5 225h5M710 222.5v5M706.5 244h5M709 241.5v5M708.5 223h5M711 220.5v5M709.5 242h5M712 239.5v5M711.5 226h5M714 223.5v5M712.5 241h5M715 238.5v5M714.5 224h5M717 221.5v5M715.5 242h5M718 239.5v5M716.5 225h5M719 222.5v5M716.5 241h5M719 238.5v5M718.5 227h5M721 224.5v5M719.5 242h5M722 239.5v5M721.5 226h5M724 223.5v5M719.5 244h5M722 241.5v5M722.5 241h5M725 238.5v5M725.5 225h5M728 222.5v5M724.5 241h5M727 238.5v5M726.5 225h5M729 222.5v5M726.5 242h5M729 239.5v5M729.5 226h5M732 223.5v5M729.5 244h5M732 241.5v5M732.5 227h5M735 224.5v5M732.5 243h5M735 240.5v5M734.5 224h5M737 221.5v5M734.5 243h5M737 240.5v5M736.5 225h5M739 222.5v5M736.5 242h5M739 239.5v5M738.5 226h5M741 223.5v5M739.5 241h5M742 238.5v5M740.5 225h5M743 222.5v5M741.5 243h5M744 240.5v5M744.5 226h5M747 223.5v5M744.5 242h5M747 239.5v5M746.5 224h5M749 221.5v5M746.5 241h5M749 238.5v5M748.5 225h5M751 222.5v5M748.5 240h5M751 237.5v5M752.5 224h5M755 221.5v5M751.5 244h5M754 241.5v5M754.5 223h5M757 220.5v5M755.5 239h5M758 236.5v5M757.5 226h5M760 223.5v5M757.5 243h5M760 240.5v5M758.5 224h5M761 221.5v5M758.5 241h5M761 238.5v5M761.5 227h5M764 224.5v5M760.5 240h5M763 237.5v5M763.5 226h5M766 223.5v5M763.5 241h5M766 238.5v5M766.5 226h5M769 223.5v5M769.5 242h5M772 239.5v5M770.5 226h5M773 223.5v5M773.5 227h5M776 224.5v5M772.5 240h5M775 237.5v5M775.5 227h5M778 224.5v5M774.5 239h5M777 236.5v5M776.5 227h5M779 224.5v5M777.5 239h5M780 236.5v5M780.5 229h5M783 226.5v5M780.5 241h5M783 238.5v5M466.5 207h5M469 204.5v5M487.5 203h5M490 200.5v5M333.5 180h5M336 177.5v5M328.5 186h5M331 183.5v5M373.5 196h5M376 193.5v5M369.5 199h5M372 196.5v5M377.5 202h5M380 199.5v5M456.5 205h5M459 202.5v5M439.5 203h5M442 200.5v5M492.5 201h5M495 198.5v5M438.5 199h5M441 196.5v5M480.5 200h5M483 197.5v5M380.5 192h5M383 189.5v5M311.5 185h5M314 182.5v5M363.5 188h5M366 185.5v5M298.5 178h5M301 175.5v5M312.5 184h5M315 181.5v5M394.5 188h5M397 185.5v5M423.5 205h5M426 202.5v5M430.5 205h5M433 202.5v5M420.5 203h5M423 200.5v5M488.5 206h5M491 203.5v5M351.5 192h5M354 189.5v5M489.5 207h5M492 204.5v5M346.5 186h5M349 183.5v5M431.5 198h5M434 195.5v5M313.5 186h5M316 183.5v5M442.5 203h5M445 200.5v5M435.5 201h5M438 198.5v5M315.5 191h5M318 188.5v5M332.5 188h5M335 185.5v5M333.5 189h5M336 186.5v5M320.5 192h5M323 189.5v5M402.5 191h5M405 188.5v5M329.5 192h5M332 189.5v5M443.5 207h5M446 204.5v5M325.5 183h5M328 180.5v5M356.5 184h5M359 181.5v5M398.5 195h5M401 192.5v5M372.5 202h5M375 199.5v5M461.5 205h5M464 202.5v5M462.5 208h5M465 205.5v5M383.5 193h5M386 190.5v5M328.5 192h5M331 189.5v5M484.5 200h5M487 197.5v5M497.5 252h5M500 249.5v5M444.5 256h5M447 253.5v5M393.5 254h5M396 251.5v5M425.5 255h5M428 252.5v5M433.5 253h5M436 250.5v5M356.5 257h5M359 254.5v5M450.5 255h5M453 252.5v5M354.5 267h5M357 264.5v5M401.5 255h5M404 252.5v5M375.5 254h5M378 251.5v5M309.5 263h5M312 260.5v5M489.5 255h5M492 252.5v5M406.5 258h5M409 255.5v5M405.5 257h5M408 254.5v5M318.5 267h5M321 264.5v5M419.5 255h5M422 252.5v5M428.5 255h5M431 252.5v5M428.5 254h5M431 251.5v5M395.5 256h5M398 253.5v5M402.5 253h5M405 250.5v5M345.5 267h5M348 264.5v5M330.5 266h5M333 263.5v5M496.5 253h5M499 250.5v5M444.5 257h5M447 254.5v5M491.5 252h5M494 249.5v5M376.5 264h5M379 261.5v5M302.5 270h5M305 267.5v5M351.5 264h5M354 261.5v5M398.5 257h5M401 254.5v5M410.5 92h5M413 89.5v5M337.5 111h5M340 108.5v5M366.5 113h5M369 110.5v5M460.5 125h5M463 122.5v5M343.5 125h5M346 122.5v5M398.5 126h5M401 123.5v5M322.5 137h5M325 134.5v5M327.5 133h5M330 130.5v5M384.5 146h5M387 143.5v5M393.5 152h5M396 149.5v5M344.5 153h5M347 150.5v5M344.5 160h5M347 157.5v5M303.5 162h5M306 159.5v5M482.5 172h5M485 169.5v5M350.5 179h5M353 176.5v5M359.5 180h5M362 177.5v5M370.5 182h5M373 179.5v5M397.5 184h5M400 181.5v5M450.5 185h5M453 182.5v5M460.5 190h5M463 187.5v5M469.5 195h5M472 192.5v5M491.5 190h5M494 187.5v5M495.5 195h5M498 192.5v5M499.5 203h5M502 200.5v5M476.5 208h5M479 205.5v5M513.5 190h5M516 187.5v5M530.5 190h5M533 187.5v5M567.5 190h5M570 187.5v5M597.5 194h5M600 191.5v5M606.5 197h5M609 194.5v5M516.5 195h5M519 192.5v5M591.5 200h5M594 197.5v5M587.5 206h5M590 203.5v5M519.5 202h5M522 199.5v5M543.5 200h5M546 197.5v5M636.5 212h5M639 209.5v5M657.5 207h5M660 204.5v5M690.5 212h5M693 209.5v5M737.5 219h5M740 216.5v5M310.5 287h5M313 284.5v5M317.5 290h5M320 287.5v5M315.5 297h5M318 294.5v5M343.5 263h5M346 260.5v5M345.5 265h5M348 262.5v5M344.5 273h5M347 270.5v5M357.5 265h5M360 262.5v5M361.5 271h5M364 268.5v5M372.5 260h5M375 257.5v5M426.5 280h5M429 277.5v5M499.5 260h5M502 257.5v5M526.5 258h5M529 255.5v5M526.5 271h5M529 268.5v5M540.5 258h5M543 255.5v5M565.5 266h5M568 263.5v5M573.5 258h5M576 255.5v5M605.5 251h5M608 248.5v5M626.5 253h5M629 250.5v5M705.5 250h5M708 247.5v5M733.5 248h5M736 245.5v5M727.5 272h5M730 269.5v5M775.5 229h5M778 226.5v5M779.5 229h5M782 226.5v5M782.5 238h5M785 235.5v5M796.5 240h5M799 237.5v5M808.5 236h5M811 233.5v5M824.5 238h5M827 235.5v5M832.5 238h5M835 235.5v5M840.5 238h5M843 235.5v5M849.5 240h5M852 237.5v5M901.5 236h5M904 233.5v5M785.5 232h5M788 229.5v5M795.5 234h5M798 231.5v5M800.5 233h5M803 230.5v5M815.5 232h5M818 229.5v5M837.5 232h5M840 229.5v5M847.5 234h5M850 231.5v5M860.5 234h5M863 231.5v5M875.5 234h5M878 231.5v5M878.5 234h5M881 231.5v5M787.5 230h5M790 227.5v5M789.5 236h5M792 233.5v5M797.5 230h5M800 227.5v5" stroke="#444" stroke-width="2" fill="none"/>
<path d="M252 229.5l22 -13.6M257 229.2l25 -15.0M262 228.9l28 -16.2M237 235.5l30 19.2M242 235.8l33 20.5M247 236.1l36 21.6M252 236.4l39 22.6M258 236.7l42 23.5" stroke="#fff" stroke-width="0.8" fill="none" opacity="0.65"/>
<path d="M291.5 132h5M294 129.5v5M297.5 129h5M300 126.5v5M300.5 128h5M303 125.5v5M312.5 123h5M315 120.5v5M303.5 145h5M306 142.5v5M312.5 142h5M315 139.5v5M285.5 329h5M288 326.5v5M292.5 334h5M295 331.5v5M295.5 334h5M298 331.5v5M299.5 338h5M302 335.5v5M309.5 341h5M312 338.5v5M315.5 344h5M318 341.5v5M317.5 345h5M320 342.5v5M569.5 212h5M572 209.5v5M539.5 213h5M542 210.5v5M596.5 215h5M599 212.5v5M603.5 217h5M606 214.5v5M652.5 222h5M655 219.5v5M470.5 208h5M473 205.5v5M445.5 213h5M448 210.5v5M627.5 221h5M630 218.5v5M689.5 223h5M692 220.5v5M585.5 215h5M588 212.5v5M587.5 215h5M590 212.5v5M472.5 205h5M475 202.5v5M452.5 214h5M455 211.5v5M445.5 215h5M448 212.5v5M483.5 217h5M486 214.5v5M419.5 207h5M422 204.5v5M378.5 204h5M381 201.5v5M628.5 218h5M631 215.5v5M589.5 215h5M592 212.5v5M435.5 195h5M438 192.5v5M454.5 204h5M457 201.5v5M423.5 202h5M426 199.5v5M674.5 223h5M677 220.5v5M595.5 226h5M598 223.5v5M616.5 219h5M619 216.5v5M557.5 224h5M560 221.5v5M582.5 219h5M585 216.5v5M525.5 213h5M528 210.5v5M584.5 218h5M587 215.5v5M594.5 207h5M597 204.5v5M381.5 203h5M384 200.5v5M496.5 213h5M499 210.5v5M527.5 210h5M530 207.5v5M558.5 213h5M561 210.5v5M542.5 214h5M545 211.5v5M534.5 218h5M537 215.5v5M492.5 210h5M495 207.5v5M478.5 215h5M481 212.5v5M409.5 194h5M412 191.5v5M700.5 223h5M703 220.5v5M562.5 215h5M565 212.5v5M567.5 224h5M570 221.5v5M409.5 204h5M412 201.5v5M447.5 215h5M450 212.5v5M439.5 208h5M442 205.5v5M404.5 192h5M407 189.5v5M532.5 211h5M535 208.5v5M664.5 224h5M667 221.5v5M453.5 215h5M456 212.5v5M710.5 224h5M713 221.5v5M592.5 224h5M595 221.5v5M550.5 214h5M553 211.5v5M523.5 221h5M526 218.5v5M655.5 223h5M658 220.5v5M517.5 211h5M520 208.5v5M511.5 219h5M514 216.5v5M522.5 221h5M525 218.5v5M476.5 207h5M479 204.5v5M451.5 211h5M454 208.5v5M480.5 210h5M483 207.5v5M447.5 207h5M450 204.5v5M495.5 209h5M498 206.5v5M655.5 222h5M658 219.5v5M528.5 216h5M531 213.5v5M546.5 213h5M549 210.5v5M611.5 207h5M614 204.5v5M499.5 215h5M502 212.5v5M548.5 215h5M551 212.5v5M448.5 206h5M451 203.5v5M435.5 209h5M438 206.5v5M687.5 219h5M690 216.5v5M509.5 209h5M512 206.5v5M440.5 210h5M443 207.5v5M622.5 217h5M625 214.5v5M398.5 196h5M401 193.5v5M472.5 208h5M475 205.5v5M487.5 217h5M490 214.5v5M619.5 213h5M622 210.5v5M575.5 213h5M578 210.5v5M547.5 223h5M550 220.5v5M475.5 210h5M478 207.5v5M564.5 215h5M567 212.5v5M516.5 215h5M519 212.5v5M575.5 220h5M578 217.5v5M560.5 218h5M563 215.5v5M635.5 219h5M638 216.5v5M417.5 196h5M420 193.5v5M643.5 219h5M646 216.5v5M601.5 220h5M604 217.5v5M615.5 215h5M618 212.5v5M432.5 210h5M435 207.5v5M660.5 224h5M663 221.5v5M395.5 204h5M398 201.5v5M700.5 228h5M703 225.5v5M562.5 195h5M565 192.5v5M493.5 209h5M496 206.5v5M551.5 214h5M554 211.5v5M574.5 219h5M577 216.5v5M633.5 223h5M636 220.5v5M378.5 192h5M381 189.5v5M421.5 205h5M424 202.5v5M625.5 217h5M628 214.5v5M595.5 222h5M598 219.5v5M477.5 215h5M480 212.5v5M455.5 210h5M458 207.5v5M471.5 214h5M474 211.5v5M688.5 227h5M691 224.5v5M560.5 223h5M563 220.5v5M560.5 194h5M563 191.5v5M525.5 217h5M528 214.5v5M577.5 214h5M580 211.5v5M385.5 203h5M388 200.5v5M448.5 202h5M451 199.5v5M561.5 219h5M564 216.5v5M493.5 214h5M496 211.5v5M622.5 220h5M625 217.5v5M585.5 216h5M588 213.5v5M521.5 212h5M524 209.5v5M405.5 199h5M408 196.5v5M519.5 216h5M522 213.5v5M488.5 211h5M491 208.5v5M552.5 215h5M555 212.5v5M473.5 204h5M476 201.5v5M385.5 205h5M388 202.5v5M539.5 204h5M542 201.5v5M378.5 207h5M381 204.5v5M523.5 214h5M526 211.5v5M612.5 219h5M615 216.5v5M607.5 220h5M610 217.5v5M486.5 204h5M489 201.5v5M508.5 189h5M511 186.5v5M482.5 213h5M485 210.5v5M610.5 209h5M613 206.5v5M634.5 217h5M637 214.5v5M629.5 212h5M632 209.5v5M442.5 209h5M445 206.5v5M409.5 201h5M412 198.5v5M621.5 219h5M624 216.5v5M388.5 202h5M391 199.5v5M446.5 205h5M449 202.5v5M702.5 224h5M705 221.5v5M490.5 211h5M493 208.5v5M522.5 211h5M525 208.5v5M657.5 225h5M660 222.5v5M620.5 218h5M623 215.5v5M430.5 209h5M433 206.5v5M435.5 205h5M438 202.5v5M420.5 200h5M423 197.5v5M500.5 203h5M503 200.5v5M642.5 223h5M645 220.5v5M481.5 217h5M484 214.5v5M420.5 205h5M423 202.5v5M600.5 223h5M603 220.5v5M530.5 209h5M533 206.5v5M389.5 201h5M392 198.5v5M537.5 180h5M540 177.5v5M705.5 228h5M708 225.5v5M584.5 219h5M587 216.5v5M458.5 209h5M461 206.5v5M453.5 209h5M456 206.5v5M688.5 223h5M691 220.5v5M447.5 212h5M450 209.5v5M538.5 222h5M541 219.5v5M483.5 211h5M486 208.5v5M523.5 219h5M526 216.5v5M578.5 246h5M581 243.5v5M538.5 245h5M541 242.5v5M579.5 247h5M582 244.5v5M575.5 245h5M578 242.5v5M591.5 240h5M594 237.5v5M592.5 252h5M595 249.5v5M642.5 245h5M645 242.5v5M662.5 249h5M665 246.5v5M535.5 243h5M538 240.5v5M593.5 249h5M596 246.5v5M417.5 245h5M420 242.5v5M650.5 245h5M653 242.5v5M538.5 246h5M541 243.5v5M587.5 244h5M590 241.5v5M664.5 241h5M667 238.5v5M594.5 247h5M597 244.5v5M545.5 242h5M548 239.5v5M606.5 240h5M609 237.5v5M665.5 249h5M668 246.5v5M508.5 241h5M511 238.5v5M473.5 243h5M476 240.5v5M562.5 240h5M565 237.5v5M657.5 257h5M660 254.5v5M507.5 245h5M510 242.5v5M597.5 259h5M600 256.5v5M512.5 261h5M515 258.5v5M708.5 251h5M711 248.5v5M552.5 247h5M555 244.5v5M472.5 250h5M475 247.5v5M564.5 252h5M567 249.5v5M607.5 243h5M610 240.5v5M547.5 244h5M550 241.5v5M528.5 245h5M531 242.5v5M597.5 244h5M600 241.5v5M547.5 252h5M550 249.5v5M679.5 244h5M682 241.5v5M573.5 255h5M576 252.5v5M464.5 249h5M467 246.5v5M474.5 255h5M477 252.5v5M498.5 251h5M501 248.5v5M649.5 245h5M652 242.5v5M453.5 252h5M456 249.5v5M550.5 242h5M553 239.5v5M513.5 245h5M516 242.5v5M423.5 267h5M426 264.5v5M585.5 240h5M588 237.5v5M565.5 244h5M568 241.5v5M543.5 247h5M546 244.5v5M489.5 248h5M492 245.5v5M599.5 243h5M602 240.5v5M559.5 245h5M562 242.5v5M571.5 250h5M574 247.5v5M495.5 249h5M498 246.5v5M643.5 250h5M646 247.5v5M616.5 247h5M619 244.5v5M594.5 249h5M597 246.5v5M581.5 245h5M584 242.5v5M508.5 243h5M511 240.5v5M564.5 247h5M567 244.5v5M639.5 240h5M642 237.5v5M484.5 245h5M487 242.5v5M663.5 240h5M666 237.5v5M603.5 242h5M606 239.5v5M549.5 249h5M552 246.5v5M566.5 244h5M569 241.5v5M619.5 251h5M622 248.5v5M569.5 245h5M572 242.5v5M543.5 242h5M546 239.5v5M581.5 244h5M584 241.5v5M532.5 245h5M535 242.5v5M655.5 241h5M658 238.5v5M578.5 247h5M581 244.5v5M482.5 249h5M485 246.5v5M662.5 247h5M665 244.5v5M679.5 221h5M682 218.5v5M696.5 225h5M699 222.5v5M708.5 225h5M711 222.5v5M735.5 224h5M738 221.5v5M712.5 223h5M715 220.5v5M747.5 226h5M750 223.5v5M667.5 224h5M670 221.5v5M721.5 223h5M724 220.5v5M729.5 224h5M732 221.5v5M723.5 224h5M726 221.5v5M452.5 99h5M455 96.5v5M356.5 102h5M359 99.5v5M400.5 114h5M403 111.5v5M343.5 123h5M346 120.5v5M384.5 133h5M387 130.5v5M427.5 135h5M430 132.5v5M418.5 138h5M421 135.5v5M403.5 141h5M406 138.5v5M312.5 141h5M315 138.5v5M334.5 148h5M337 145.5v5M366.5 150h5M369 147.5v5M346.5 167h5M349 164.5v5M337.5 165h5M340 162.5v5M366.5 165h5M369 162.5v5M457.5 160h5M460 157.5v5M504.5 158h5M507 155.5v5M386.5 172h5M389 169.5v5M380.5 175h5M383 172.5v5M410.5 170h5M413 167.5v5M403.5 175h5M406 172.5v5M429.5 175h5M432 172.5v5M452.5 173h5M455 170.5v5M472.5 172h5M475 169.5v5M506.5 173h5M509 170.5v5M334.5 177h5M337 174.5v5M336.5 180h5M339 177.5v5M339.5 182h5M342 179.5v5M352.5 180h5M355 177.5v5M377.5 176h5M380 173.5v5M380.5 178h5M383 175.5v5M383.5 182h5M386 179.5v5M373.5 192h5M376 189.5v5M377.5 193h5M380 190.5v5M380.5 195h5M383 192.5v5M385.5 190h5M388 187.5v5M389.5 199h5M392 196.5v5M395.5 195h5M398 192.5v5M399.5 194h5M402 191.5v5M405.5 196h5M408 193.5v5M412.5 187h5M415 184.5v5M420.5 189h5M423 186.5v5M424.5 184h5M427 181.5v5M429.5 192h5M432 189.5v5M412.5 200h5M415 197.5v5M415.5 200h5M418 197.5v5M418.5 200h5M421 197.5v5M433.5 199h5M436 196.5v5M447.5 184h5M450 181.5v5M454.5 180h5M457 177.5v5M457.5 190h5M460 187.5v5M460.5 195h5M463 192.5v5M463.5 195h5M466 192.5v5M466.5 195h5M469 192.5v5M479.5 198h5M482 195.5v5M486.5 203h5M489 200.5v5M499.5 187h5M502 184.5v5M441.5 201h5M444 198.5v5M447.5 201h5M450 198.5v5M543.5 143h5M546 140.5v5M530.5 158h5M533 155.5v5M538.5 158h5M541 155.5v5M526.5 168h5M529 165.5v5M530.5 168h5M533 165.5v5M555.5 173h5M558 170.5v5M507.5 173h5M510 170.5v5M509.5 179h5M512 176.5v5M543.5 182h5M546 179.5v5M612.5 182h5M615 179.5v5M545.5 190h5M548 187.5v5M570.5 192h5M573 189.5v5M616.5 197h5M619 194.5v5M523.5 195h5M526 192.5v5M533.5 199h5M536 196.5v5M555.5 197h5M558 194.5v5M561.5 200h5M564 197.5v5M572.5 202h5M575 199.5v5M576.5 202h5M579 199.5v5M580.5 202h5M583 199.5v5M551.5 204h5M554 201.5v5M607.5 207h5M610 204.5v5M626.5 209h5M629 206.5v5M660.5 206h5M663 203.5v5M664.5 209h5M667 206.5v5M697.5 212h5M700 209.5v5M698.5 212h5M701 209.5v5M714.5 219h5M717 216.5v5M716.5 220h5M719 217.5v5M732.5 219h5M735 216.5v5M731.5 224h5M734 221.5v5M749.5 223h5M752 220.5v5M754.5 221h5M757 218.5v5M800.5 206h5M803 203.5v5M349.5 285h5M352 282.5v5M364.5 283h5M367 280.5v5M366.5 290h5M369 287.5v5M347.5 299h5M350 296.5v5M344.5 312h5M347 309.5v5M359.5 312h5M362 309.5v5M315.5 326h5M318 323.5v5M329.5 332h5M332 329.5v5M299.5 337h5M302 334.5v5M310.5 341h5M313 338.5v5M316.5 344h5M319 341.5v5M322.5 347h5M325 344.5v5M327.5 350h5M330 347.5v5M356.5 346h5M359 343.5v5M340.5 357h5M343 354.5v5M343.5 358h5M346 355.5v5M354.5 363h5M357 360.5v5M378.5 356h5M381 353.5v5M391.5 317h5M394 314.5v5M386.5 326h5M389 323.5v5M400.5 332h5M403 329.5v5M381.5 377h5M384 374.5v5M395.5 383h5M398 380.5v5M420.5 362h5M423 359.5v5M452.5 377h5M455 374.5v5M467.5 317h5M470 314.5v5M484.5 350h5M487 347.5v5M503.5 300h5M506 297.5v5M506.5 305h5M509 302.5v5M357.5 273h5M360 270.5v5M366.5 267h5M369 264.5v5M380.5 267h5M383 264.5v5M401.5 268h5M404 265.5v5M407.5 270h5M410 267.5v5M410.5 275h5M413 272.5v5M415.5 269h5M418 266.5v5M417.5 278h5M420 275.5v5M428.5 282h5M431 279.5v5M400.5 282h5M403 279.5v5M430.5 267h5M433 264.5v5M429.5 259h5M432 256.5v5M441.5 271h5M444 268.5v5M445.5 270h5M448 267.5v5M449.5 262h5M452 259.5v5M460.5 265h5M463 262.5v5M467.5 270h5M470 267.5v5M472.5 275h5M475 272.5v5M472.5 262h5M475 259.5v5M472.5 253h5M475 250.5v5M504.5 255h5M507 252.5v5M455.5 253h5M458 250.5v5M519.5 258h5M522 255.5v5M530.5 262h5M533 259.5v5M526.5 267h5M529 264.5v5M545.5 255h5M548 252.5v5M550.5 258h5M553 255.5v5M558.5 271h5M561 268.5v5M569.5 273h5M572 270.5v5M573.5 253h5M576 250.5v5M594.5 253h5M597 250.5v5M611.5 255h5M614 252.5v5M639.5 255h5M642 252.5v5M643.5 256h5M646 253.5v5M639.5 271h5M642 268.5v5M659.5 258h5M662 255.5v5M675.5 256h5M678 253.5v5M681.5 255h5M684 252.5v5M691.5 245h5M694 242.5v5M700.5 247h5M703 244.5v5M508.5 305h5M511 302.5v5M567.5 329h5M570 326.5v5M701.5 246h5M704 243.5v5M726.5 244h5M729 241.5v5M731.5 241h5M734 238.5v5M724.5 266h5M727 263.5v5M818.5 243h5M821 240.5v5M886.5 245h5M889 242.5v5" stroke="#c8201a" stroke-width="2" fill="none"/>
<rect x="97.6" y="229.1" width="837" height="6.6" fill="rgb(255,0,0)" fill-opacity="0.5"/>
</g>
<rect x="97.6" y="80.7" width="837" height="314.1" fill="none" stroke="#000" stroke-width="1.5"/>
<line x1="81.3" y1="141.6" x2="97.6" y2="141.6" stroke="#000" stroke-width="1.5"/>
<line x1="81.3" y1="232.8" x2="97.6" y2="232.8" stroke="#000" stroke-width="1.5"/>
<line x1="81.3" y1="325.7" x2="97.6" y2="325.7" stroke="#000" stroke-width="1.5"/>
<line x1="99.8" y1="394.8" x2="99.8" y2="410.6" stroke="#000" stroke-width="1.5"/>
<line x1="218.8" y1="394.8" x2="218.8" y2="410.6" stroke="#000" stroke-width="1.5"/>
<line x1="468.7" y1="394.8" x2="468.7" y2="410.6" stroke="#000" stroke-width="1.5"/>
<line x1="715.1" y1="394.8" x2="715.1" y2="410.6" stroke="#000" stroke-width="1.5"/>
<text x="0.7" y="22.5" font-size="40" font-weight="bold" font-style="normal" fill="#111" textLength="20.8" lengthAdjust="spacingAndGlyphs">a</text>
<text x="-2.4" y="522.6" font-size="40" font-weight="bold" font-style="normal" fill="#111" textLength="24.9" lengthAdjust="spacingAndGlyphs">b</text>
<text x="-0.3" y="1322.5" font-size="40" font-weight="bold" font-style="normal" fill="#111" textLength="22.5" lengthAdjust="spacingAndGlyphs">c</text>
<text y="53.2" font-size="30.4" font-weight="bold" fill="#111"><tspan x="383.2" font-style="italic">CEBPB</tspan><tspan>-ko RNA-seq</tspan></text>
<text transform="translate(29.8,320.6) rotate(-90)" x="0" y="0" font-size="28.0" font-weight="bold" fill="#111" textLength="230.7" lengthAdjust="spacingAndGlyphs">log2 (fold change)</text>
<text x="326.1" y="463.9" font-size="27.1" font-weight="bold" font-style="normal" fill="#111" textLength="354.3" lengthAdjust="spacingAndGlyphs">mean of normalised counts</text>
<text x="82.0" y="437.6" font-size="27.4" font-weight="bold" font-style="normal" fill="#111" textLength="33.7" lengthAdjust="spacingAndGlyphs">0.1</text>
<text x="205.2" y="437.6" font-size="27.4" font-weight="bold" font-style="normal" fill="#111" textLength="30.4" lengthAdjust="spacingAndGlyphs">10</text>
<text x="439.0" y="437.6" font-size="27.4" font-weight="bold" font-style="normal" fill="#111" textLength="60.8" lengthAdjust="spacingAndGlyphs">1000</text>
<text x="665.2" y="437.6" font-size="27.4" font-weight="bold" font-style="normal" fill="#111" textLength="98.7" lengthAdjust="spacingAndGlyphs">100.000</text>
<text x="58.2" y="149.5" font-size="30.5" font-weight="bold" font-style="normal" fill="#111" textLength="16.8" lengthAdjust="spacingAndGlyphs">5</text>
<text x="57.8" y="243.8" font-size="30.5" font-weight="bold" font-style="normal" fill="#111" textLength="18.3" lengthAdjust="spacingAndGlyphs">0</text>
<text x="47.7" y="336.6" font-size="30.5" font-weight="bold" font-style="normal" fill="#111" textLength="27.3" lengthAdjust="spacingAndGlyphs">-5</text>
<text x="956.1" y="212.8" font-size="27.1" font-weight="bold" font-style="normal" fill="#111" textLength="251.6" lengthAdjust="spacingAndGlyphs">540 DEG FDR &lt;0.05</text>
<text x="956.2" y="245.3" font-size="27.1" font-weight="bold" font-style="normal" fill="#111" textLength="355.9" lengthAdjust="spacingAndGlyphs">344 upregulated transcripts</text>
<text x="955.3" y="277.8" font-size="27.1" font-weight="bold" font-style="normal" fill="#111" textLength="395.0" lengthAdjust="spacingAndGlyphs">196 downregulated transcripts</text>
<text x="320.2" y="590.8" font-size="27.0" font-weight="bold" fill="#111" textLength="622.3" lengthAdjust="spacingAndGlyphs">Most enriched downregulated clusters - RNA-seq</text>
<line x1="381.4" y1="633.3" x2="381.4" y2="1200.6" stroke="#d9d9d9" stroke-width="2.6"/>
<line x1="471.1" y1="633.3" x2="471.1" y2="1200.6" stroke="#d9d9d9" stroke-width="2.6"/>
<line x1="560.9" y1="633.3" x2="560.9" y2="1200.6" stroke="#d9d9d9" stroke-width="2.6"/>
<line x1="650.6" y1="633.3" x2="650.6" y2="1200.6" stroke="#d9d9d9" stroke-width="2.6"/>
<line x1="740.3" y1="633.3" x2="740.3" y2="1200.6" stroke="#d9d9d9" stroke-width="2.6"/>
<line x1="830.0" y1="633.3" x2="830.0" y2="1200.6" stroke="#d9d9d9" stroke-width="2.6"/>
<line x1="919.8" y1="633.3" x2="919.8" y2="1200.6" stroke="#d9d9d9" stroke-width="2.6"/>
<line x1="1009.5" y1="633.3" x2="1009.5" y2="1200.6" stroke="#d9d9d9" stroke-width="2.6"/>
<rect x="382.4" y="646.65" width="553.8" height="13.70" fill="#3e7cba"/>
<path d="M382.4 646.65H936.22V660.35H382.4" fill="none" stroke="#000" stroke-width="2.7" stroke-linejoin="miter"/>
<text x="951.2" y="660.5" font-size="21.3" font-weight="normal" fill="#404040" textLength="41.4" lengthAdjust="spacingAndGlyphs">3,09</text>
<rect x="382.4" y="687.15" width="521.5" height="13.70" fill="#3e7cba"/>
<path d="M382.4 687.15H903.88V700.85H382.4" fill="none" stroke="#000" stroke-width="2.7" stroke-linejoin="miter"/>
<text x="918.7" y="701.0" font-size="21.3" font-weight="normal" fill="#404040" textLength="41.7" lengthAdjust="spacingAndGlyphs">2,91</text>
<rect x="382.4" y="727.65" width="521.5" height="13.70" fill="#3e7cba"/>
<path d="M382.4 727.65H903.88V741.35H382.4" fill="none" stroke="#000" stroke-width="2.7" stroke-linejoin="miter"/>
<text x="918.7" y="741.5" font-size="21.3" font-weight="normal" fill="#404040" textLength="41.7" lengthAdjust="spacingAndGlyphs">2,91</text>
<rect x="382.4" y="768.15" width="485.5" height="13.70" fill="#3e7cba"/>
<path d="M382.4 768.15H867.94V781.85H382.4" fill="none" stroke="#000" stroke-width="2.7" stroke-linejoin="miter"/>
<text x="882.7" y="782.0" font-size="21.3" font-weight="normal" fill="#404040" textLength="41.7" lengthAdjust="spacingAndGlyphs">2,71</text>
<rect x="382.4" y="808.65" width="453.2" height="13.70" fill="#3e7cba"/>
<path d="M382.4 808.65H835.59V822.35H382.4" fill="none" stroke="#000" stroke-width="2.7" stroke-linejoin="miter"/>
<text x="850.4" y="822.5" font-size="21.3" font-weight="normal" fill="#404040" textLength="41.5" lengthAdjust="spacingAndGlyphs">2,53</text>
<rect x="382.4" y="849.15" width="429.8" height="13.70" fill="#3e7cba"/>
<path d="M382.4 849.15H812.23V862.85H382.4" fill="none" stroke="#000" stroke-width="2.7" stroke-linejoin="miter"/>
<text x="827.1" y="863.0" font-size="21.3" font-weight="normal" fill="#404040" textLength="28.0" lengthAdjust="spacingAndGlyphs">2,4</text>
<rect x="382.4" y="889.65" width="408.3" height="13.70" fill="#3e7cba"/>
<path d="M382.4 889.65H790.67V903.35H382.4" fill="none" stroke="#000" stroke-width="2.7" stroke-linejoin="miter"/>
<text x="805.4" y="903.5" font-size="21.3" font-weight="normal" fill="#404040" textLength="41.5" lengthAdjust="spacingAndGlyphs">2,28</text>
<rect x="382.4" y="930.15" width="363.3" height="13.70" fill="#3e7cba"/>
<path d="M382.4 930.15H745.74V943.85H382.4" fill="none" stroke="#000" stroke-width="2.7" stroke-linejoin="miter"/>
<text x="760.5" y="944.0" font-size="21.3" font-weight="normal" fill="#404040" textLength="41.5" lengthAdjust="spacingAndGlyphs">2,03</text>
<rect x="382.4" y="970.65" width="336.4" height="13.70" fill="#3e7cba"/>
<path d="M382.4 970.65H718.79V984.35H382.4" fill="none" stroke="#000" stroke-width="2.7" stroke-linejoin="miter"/>
<text x="733.0" y="984.5" font-size="21.3" font-weight="normal" fill="#404040" textLength="42.1" lengthAdjust="spacingAndGlyphs">1,88</text>
<rect x="382.4" y="1011.15" width="332.8" height="13.70" fill="#3e7cba"/>
<path d="M382.4 1011.15H715.19V1024.85H382.4" fill="none" stroke="#000" stroke-width="2.7" stroke-linejoin="miter"/>
<text x="729.4" y="1025.0" font-size="21.3" font-weight="normal" fill="#404040" textLength="42.1" lengthAdjust="spacingAndGlyphs">1,86</text>
<rect x="382.4" y="1051.65" width="320.2" height="13.70" fill="#3e7cba"/>
<path d="M382.4 1051.65H702.61V1065.35H382.4" fill="none" stroke="#000" stroke-width="2.7" stroke-linejoin="miter"/>
<text x="716.8" y="1065.5" font-size="21.3" font-weight="normal" fill="#404040" textLength="42.2" lengthAdjust="spacingAndGlyphs">1,79</text>
<rect x="382.4" y="1092.15" width="255.5" height="13.70" fill="#3e7cba"/>
<path d="M382.4 1092.15H637.92V1105.85H382.4" fill="none" stroke="#000" stroke-width="2.7" stroke-linejoin="miter"/>
<text x="652.1" y="1106.0" font-size="21.3" font-weight="normal" fill="#404040" textLength="42.1" lengthAdjust="spacingAndGlyphs">1,43</text>
<rect x="382.4" y="1132.65" width="253.7" height="13.70" fill="#3e7cba"/>
<path d="M382.4 1132.65H636.12V1146.35H382.4" fill="none" stroke="#000" stroke-width="2.7" stroke-linejoin="miter"/>
<text x="650.3" y="1146.5" font-size="21.3" font-weight="normal" fill="#404040" textLength="42.3" lengthAdjust="spacingAndGlyphs">1,42</text>
<rect x="382.4" y="1173.15" width="232.2" height="13.70" fill="#3e7cba"/>
<path d="M382.4 1173.15H614.56V1186.85H382.4" fill="none" stroke="#000" stroke-width="2.7" stroke-linejoin="miter"/>
<text x="628.9" y="1187.0" font-size="21.3" font-weight="normal" fill="#404040" textLength="28.8" lengthAdjust="spacingAndGlyphs">1,3</text>
<text x="204.2" y="659.3" font-size="21.2" font-weight="bold" fill="#111" stroke="#fff" stroke-width="0.25" textLength="159.7" lengthAdjust="spacingAndGlyphs">Heparin-binding</text>
<text x="275.2" y="699.8" font-size="21.2" font-weight="bold" fill="#111" stroke="#fff" stroke-width="0.25" textLength="87.7" lengthAdjust="spacingAndGlyphs">Calponin</text>
<text x="235.5" y="740.0" font-size="21.2" font-weight="bold" fill="#111" stroke="#fff" stroke-width="0.25" textLength="127.9" lengthAdjust="spacingAndGlyphs">Glycoprotein</text>
<text x="252.6" y="779.9" font-size="21.2" font-weight="bold" fill="#111" stroke="#fff" stroke-width="0.25" textLength="107.8" lengthAdjust="spacingAndGlyphs">Membrane</text>
<text x="231.5" y="821.0" font-size="21.2" font-weight="bold" fill="#111" stroke="#fff" stroke-width="0.25" textLength="133.6" lengthAdjust="spacingAndGlyphs">Actin-binding</text>
<text x="207.2" y="861.7" font-size="21.2" font-weight="bold" fill="#111" stroke="#fff" stroke-width="0.25" textLength="157.8" lengthAdjust="spacingAndGlyphs">Integrin binding</text>
<text x="179.0" y="902.1" font-size="21.2" font-weight="bold" fill="#111" stroke="#fff" stroke-width="0.25" textLength="186.1" lengthAdjust="spacingAndGlyphs">Fibronectin type III</text>
<text x="173.7" y="942.4" font-size="21.2" font-weight="bold" fill="#111" stroke="#fff" stroke-width="0.25" textLength="191.5" lengthAdjust="spacingAndGlyphs">Extracellular matrix</text>
<text x="219.3" y="983.5" font-size="21.2" font-weight="bold" fill="#111" stroke="#fff" stroke-width="0.25" textLength="144.5" lengthAdjust="spacingAndGlyphs">Axon guidance</text>
<text x="194.3" y="1023.8" font-size="21.2" font-weight="bold" fill="#111" stroke="#fff" stroke-width="0.25" textLength="169.4" lengthAdjust="spacingAndGlyphs">Hormone activity</text>
<text x="136.5" y="1064.2" font-size="21.2" font-weight="bold" fill="#111" stroke="#fff" stroke-width="0.25" textLength="227.9" lengthAdjust="spacingAndGlyphs">Immunoglobulin type 2</text>
<text x="19.7" y="1104.6" font-size="21.2" font-weight="bold" fill="#111" stroke="#fff" stroke-width="0.25" textLength="349.8" lengthAdjust="spacingAndGlyphs">Positive regulation of cell migration</text>
<text x="235.6" y="1145.7" font-size="21.2" font-weight="bold" fill="#111" stroke="#fff" stroke-width="0.25" textLength="121.4" lengthAdjust="spacingAndGlyphs">Cell junction</text>
<text x="203.0" y="1185.4" font-size="21.2" font-weight="bold" fill="#111" stroke="#fff" stroke-width="0.25" textLength="159.3" lengthAdjust="spacingAndGlyphs">Transmembrane</text>
<rect x="1064.3" y="901.9" width="12" height="12" fill="#3e7cba" stroke="#000" stroke-width="2"/>
<text x="1082.5" y="913.7" font-size="19.6" font-weight="bold" fill="#111" stroke="#fff" stroke-width="0.25" textLength="111.7" lengthAdjust="spacingAndGlyphs">Enrichment</text>
<text x="1082.3" y="941.8" font-size="19.6" font-weight="bold" fill="#111" stroke="#fff" stroke-width="0.25" textLength="52.3" lengthAdjust="spacingAndGlyphs">score</text>
<text x="318.7" y="1390.6" font-size="31.0" font-weight="bold" fill="#111" textLength="678.4" lengthAdjust="spacingAndGlyphs">Most enriched upregulated clusters - RNA-seq</text>
<line x1="508.6" y1="1431" x2="508.6" y2="1976" stroke="#d9d9d9" stroke-width="2.5"/>
<line x1="634.3" y1="1431" x2="634.3" y2="1976" stroke="#d9d9d9" stroke-width="2.5"/>
<line x1="760.0" y1="1431" x2="760.0" y2="1976" stroke="#d9d9d9" stroke-width="2.5"/>
<line x1="885.7" y1="1431" x2="885.7" y2="1976" stroke="#d9d9d9" stroke-width="2.5"/>
<line x1="1011.4" y1="1431" x2="1011.4" y2="1976" stroke="#d9d9d9" stroke-width="2.5"/>
<rect x="510.2" y="1450.60" width="476.1" height="20.60" fill="#3e7cba"/>
<path d="M510.2 1450.60H986.35V1471.20H510.2" fill="none" stroke="#000" stroke-width="3" stroke-linejoin="miter"/>
<text x="1002.0" y="1468.3" font-size="21.3" font-weight="normal" fill="#404040" textLength="28.7" lengthAdjust="spacingAndGlyphs">7,6</text>
<rect x="510.2" y="1511.05" width="454.7" height="20.60" fill="#3e7cba"/>
<path d="M510.2 1511.05H964.93V1531.65H510.2" fill="none" stroke="#000" stroke-width="3" stroke-linejoin="miter"/>
<text x="980.6" y="1528.8" font-size="21.3" font-weight="normal" fill="#404040" textLength="42.2" lengthAdjust="spacingAndGlyphs">7,26</text>
<rect x="510.2" y="1571.50" width="267.7" height="20.60" fill="#3e7cba"/>
<path d="M510.2 1571.50H777.88V1592.10H510.2" fill="none" stroke="#000" stroke-width="3" stroke-linejoin="miter"/>
<text x="794.2" y="1589.2" font-size="21.3" font-weight="normal" fill="#404040" textLength="41.6" lengthAdjust="spacingAndGlyphs">4,29</text>
<rect x="510.2" y="1631.95" width="212.9" height="20.60" fill="#3e7cba"/>
<path d="M510.2 1631.95H723.09V1652.55H510.2" fill="none" stroke="#000" stroke-width="3" stroke-linejoin="miter"/>
<text x="738.9" y="1649.7" font-size="21.3" font-weight="normal" fill="#404040" textLength="42.2" lengthAdjust="spacingAndGlyphs">3,42</text>
<rect x="510.2" y="1692.40" width="170.1" height="20.60" fill="#3e7cba"/>
<path d="M510.2 1692.40H680.27V1713.00H510.2" fill="none" stroke="#000" stroke-width="3" stroke-linejoin="miter"/>
<text x="695.9" y="1710.1" font-size="21.3" font-weight="normal" fill="#404040" textLength="42.0" lengthAdjust="spacingAndGlyphs">2,74</text>
<rect x="510.2" y="1752.85" width="111.5" height="20.60" fill="#3e7cba"/>
<path d="M510.2 1752.85H621.69V1773.45H510.2" fill="none" stroke="#000" stroke-width="3" stroke-linejoin="miter"/>
<text x="636.7" y="1770.6" font-size="21.3" font-weight="normal" fill="#404040" textLength="42.9" lengthAdjust="spacingAndGlyphs">1,81</text>
<rect x="510.2" y="1813.30" width="101.4" height="20.60" fill="#3e7cba"/>
<path d="M510.2 1813.30H611.62V1833.90H510.2" fill="none" stroke="#000" stroke-width="3" stroke-linejoin="miter"/>
<text x="626.7" y="1831.0" font-size="21.3" font-weight="normal" fill="#404040" textLength="42.8" lengthAdjust="spacingAndGlyphs">1,65</text>
<rect x="510.2" y="1873.75" width="93.2" height="20.60" fill="#3e7cba"/>
<path d="M510.2 1873.75H603.43V1894.35H510.2" fill="none" stroke="#000" stroke-width="3" stroke-linejoin="miter"/>
<text x="618.5" y="1891.5" font-size="21.3" font-weight="normal" fill="#404040" textLength="43.0" lengthAdjust="spacingAndGlyphs">1,52</text>
<rect x="510.2" y="1934.20" width="83.2" height="20.60" fill="#3e7cba"/>
<path d="M510.2 1934.20H593.35V1954.80H510.2" fill="none" stroke="#000" stroke-width="3" stroke-linejoin="miter"/>
<text x="608.4" y="1951.9" font-size="21.3" font-weight="normal" fill="#404040" textLength="42.8" lengthAdjust="spacingAndGlyphs">1,36</text>
<text x="444.9" y="1466.7" font-size="21.0" font-weight="bold" fill="#111" stroke="#fff" stroke-width="0.25" textLength="49.0" lengthAdjust="spacingAndGlyphs">MHC</text>
<text x="21.6" y="1527.0" font-size="21.0" font-weight="bold" fill="#111" stroke="#fff" stroke-width="0.25" textLength="476.7" lengthAdjust="spacingAndGlyphs">MHC classes I/II-like antigen recognition protein</text>
<text x="39.1" y="1587.4" font-size="21.0" font-weight="bold" fill="#111" stroke="#fff" stroke-width="0.25" textLength="457.5" lengthAdjust="spacingAndGlyphs">Antigen processing and presentation via MHCI</text>
<text x="20.6" y="1634.1" font-size="21.0" font-weight="bold" fill="#111" stroke="#fff" stroke-width="0.25" textLength="475.4" lengthAdjust="spacingAndGlyphs">Antigen processing and presentiation of peptide</text>
<text x="85.1" y="1662.2" font-size="21.0" font-weight="bold" fill="#111" stroke="#fff" stroke-width="0.25" textLength="411.5" lengthAdjust="spacingAndGlyphs">or polysaccharide antigen via MHC class II</text>
<text x="206.7" y="1708.1" font-size="21.0" font-weight="bold" fill="#111" stroke="#fff" stroke-width="0.25" textLength="290.0" lengthAdjust="spacingAndGlyphs">2'-5'-oligoadenylate synthase</text>
<text x="250.8" y="1769.0" font-size="21.0" font-weight="bold" fill="#111" stroke="#fff" stroke-width="0.25" textLength="245.6" lengthAdjust="spacingAndGlyphs">STAT transcription factor</text>
<text x="459.4" y="1829.2" font-size="21.0" font-weight="bold" fill="#111" stroke="#fff" stroke-width="0.25" textLength="37.5" lengthAdjust="spacingAndGlyphs">PB1</text>
<text x="294.7" y="1889.3" font-size="21.0" font-weight="bold" fill="#111" stroke="#fff" stroke-width="0.25" textLength="201.9" lengthAdjust="spacingAndGlyphs">Thyroglobulin type 1</text>
<text x="442.3" y="1950.5" font-size="21.0" font-weight="bold" fill="#111" stroke="#fff" stroke-width="0.25" textLength="53.9" lengthAdjust="spacingAndGlyphs">PARP</text>
<rect x="1096.1" y="1701.7" width="12.8" height="14" fill="#3e7cba" stroke="#000" stroke-width="2.2"/>
<text x="1114.8" y="1714.3" font-size="19.6" font-weight="bold" fill="#595959" stroke="#fff" stroke-width="0.25" textLength="112.5" lengthAdjust="spacingAndGlyphs">Enrichment</text>
<text x="1114.5" y="1742.1" font-size="19.6" font-weight="bold" fill="#595959" stroke="#fff" stroke-width="0.25" textLength="52.8" lengthAdjust="spacingAndGlyphs">score</text>
</svg></body></html>
